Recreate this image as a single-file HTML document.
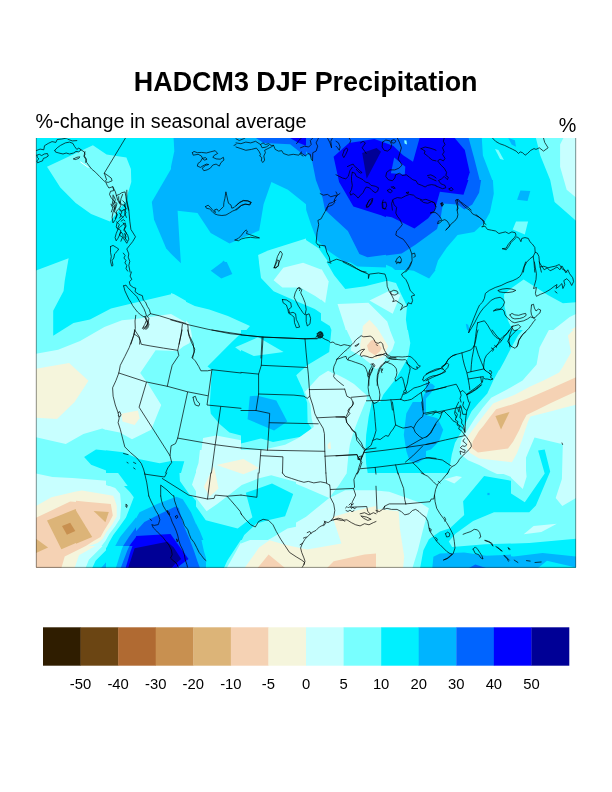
<!DOCTYPE html>
<html><head><meta charset="utf-8"><title>HADCM3 DJF Precipitation</title>
<style>
html,body{margin:0;padding:0;background:#fff;}
body{width:612px;height:792px;position:relative;overflow:hidden;font-family:"Liberation Sans",sans-serif;}
svg text{font-family:"Liberation Sans",sans-serif;fill:#000;}
</style></head><body>
<svg width="612" height="792" viewBox="0 0 612 792" style="position:absolute;left:0;top:0">
<defs>
<clipPath id="t00"><rect x="36" y="138" width="135" height="143"/></clipPath>
<clipPath id="t10"><rect x="171" y="138" width="135" height="143"/></clipPath>
<clipPath id="t20"><rect x="306" y="138" width="135" height="143"/></clipPath>
<clipPath id="t30"><rect x="441" y="138" width="135" height="143"/></clipPath>
<clipPath id="t01"><rect x="36" y="281" width="135" height="143"/></clipPath>
<clipPath id="t11"><rect x="171" y="281" width="135" height="143"/></clipPath>
<clipPath id="t21"><rect x="306" y="281" width="135" height="143"/></clipPath>
<clipPath id="t31"><rect x="441" y="281" width="135" height="143"/></clipPath>
<clipPath id="t02"><rect x="36" y="424" width="135" height="144"/></clipPath>
<clipPath id="t12"><rect x="171" y="424" width="135" height="144"/></clipPath>
<clipPath id="t22"><rect x="306" y="424" width="135" height="144"/></clipPath>
<clipPath id="t32"><rect x="441" y="424" width="135" height="144"/></clipPath>
<clipPath id="map"><rect x="36" y="138" width="540" height="429.5"/></clipPath>
</defs>
<g shape-rendering="geometricPrecision">
<g clip-path="url(#t00)">
<rect x="36" y="138" width="135" height="143" fill="#00f0ff"/>
<polygon points="47.0,166.7 92.9,145.3 106.6,154.5 126.4,157.4 130.9,168.9 131.3,182.1 125.3,202.0 109.9,221.4 91.1,214.1 75.7,203.1 60.3,187.6" fill="#78ffff"/>
<polygon points="171.0,168.9 151.8,202.0 154.0,219.6 166.1,248.3 171.0,253.8" fill="#00b4ff"/>
<polygon points="36.0,270.4 68.6,258.2 64.7,280.9 36.0,280.9" fill="#78ffff"/>
</g>
<g clip-path="url(#t10)">
<rect x="171" y="138" width="135" height="143" fill="#00b4ff"/>
<polygon points="171.0,138.0 173.6,138.0 174.3,151.2 171.0,166.7" fill="#00f0ff"/>
<polygon points="255.9,138.0 263.6,142.9 290.1,144.2 306.0,156.8 306.0,138.0" fill="#0064ff"/>
<polygon points="290.1,138.0 297.8,142.4 306.0,145.7 306.0,138.0" fill="#0000ff"/>
<polygon points="177.6,210.8 197.5,213.0 210.7,232.9 229.5,243.4 259.2,230.6 263.6,204.2 271.4,182.1 287.9,189.8 306.0,204.2 306.0,280.9 171.0,280.9 171.0,253.8 180.9,263.3" fill="#00f0ff"/>
<polygon points="210.7,271.5 223.9,260.4 231.7,274.8 218.4,278.1" fill="#00b4ff"/>
<polygon points="258.1,254.9 268.1,250.5 306.0,238.4 306.0,280.9 261.4,280.9" fill="#78ffff"/>
<polygon points="273.6,280.9 283.5,270.4 294.5,265.9 306.0,264.8 306.0,280.9" fill="#c8ffff"/>
</g>
<g clip-path="url(#t20)">
<rect x="306" y="138" width="135" height="143" fill="#0064ff"/>
<polygon points="306.0,151.2 311.5,157.9 315.9,179.9 322.5,197.6 325.0,209.9 347.9,231.1 359.4,254.0 367.5,257.3 400.9,252.7 414.1,246.1 441.0,226.2 441.0,280.9 306.0,280.9" fill="#00b4ff"/>
<polygon points="306.0,204.2 306.2,209.9 311.1,224.7 316.8,239.5 325.9,249.2 344.6,262.2 367.5,269.7 375.9,267.3 398.6,261.5 420.7,279.2 429.5,280.9 306.0,280.9" fill="#00f0ff"/>
<polygon points="276.0,249.2 303.8,238.6 318.6,248.3 329.8,264.0 336.4,282.0 276.0,282.0" fill="#78ffff"/>
<polygon points="276.0,275.4 285.7,267.3 304.7,263.1 321.9,268.8 328.3,282.0 276.0,282.0" fill="#c8ffff"/>
<polygon points="333.6,156.8 349.0,142.9 374.4,139.1 393.1,145.7 403.1,155.2 413.0,161.8 419.6,138.0 441.0,138.0 441.0,195.4 431.7,213.0 414.1,228.4 381.0,215.2 353.4,206.4 339.1,182.1" fill="#0000ff"/>
<polygon points="394.2,157.4 405.3,166.7 404.8,174.4 390.9,173.3" fill="#0064ff"/>
<polygon points="362.2,153.0 376.6,147.9 381.0,151.7 366.7,178.8" fill="#000096"/>
<polygon points="404.2,140.2 406.4,140.6 407.0,144.6 404.6,143.5" fill="#78ffff"/>
</g>
<g clip-path="url(#t30)">
<rect x="441" y="138" width="135" height="143" fill="#00f0ff"/>
<polygon points="441.0,138.0 481.8,138.0 482.9,155.6 493.9,184.3 492.8,197.6 485.1,222.9 477.4,232.9 457.5,234.6 441.0,257.1" fill="#00b4ff"/>
<polygon points="441.0,138.0 468.6,138.0 474.1,157.9 481.1,185.4 481.1,195.8 471.9,213.0 454.2,200.9 441.0,204.2" fill="#0064ff"/>
<polygon points="441.0,138.0 454.7,138.0 464.8,150.1 469.7,172.2 462.0,197.6 441.0,188.7" fill="#0000ff"/>
<polygon points="535.9,138.0 540.3,155.6 550.2,179.9 554.6,202.0 576.0,220.7 576.0,138.0" fill="#78ffff"/>
<polygon points="563.4,138.0 560.1,144.6 560.1,166.7 566.7,189.8 576.0,197.6 576.0,138.0" fill="#c8ffff"/>
<polygon points="495.0,149.0 498.4,150.1 503.9,160.1 500.1,159.0" fill="#78ffff"/>
<polygon points="520.4,190.5 530.3,190.9 527.5,200.9 517.1,199.8" fill="#00b4ff"/>
<polygon points="516.0,221.4 528.1,221.4 524.8,234.6 512.7,229.5" fill="#78ffff"/>
<polygon points="508.3,138.0 514.9,140.2 516.0,146.8 511.6,144.6" fill="#00b4ff"/>
</g>
<g clip-path="url(#t01)">
<rect x="36" y="281" width="135" height="143" fill="#c8ffff"/>
<polygon points="36.0,281.0 171.0,281.0 171.0,314.1 135.3,318.9 122.0,320.3 104.4,326.9 80.1,341.0 58.1,349.8 36.0,353.8" fill="#78ffff"/>
<polygon points="64.7,281.0 63.6,290.9 53.2,310.8 53.2,335.7 73.5,322.9 90.0,319.6 111.0,308.6 128.6,304.2 171.0,294.2 171.0,281.0" fill="#00f0ff"/>
<polygon points="36.0,368.8 69.1,363.1 88.5,380.7 74.6,401.9 57.0,418.9 36.0,417.8" fill="#f5f5dc"/>
<polygon points="171.0,347.2 156.2,349.4 139.7,373.6 150.7,389.1 161.7,405.6 155.1,423.9 171.0,423.9" fill="#78ffff"/>
<polygon points="120.9,414.5 137.9,410.7 139.2,423.9 123.1,423.9" fill="#f5f5dc"/>
</g>
<g clip-path="url(#t11)">
<rect x="171" y="281" width="135" height="143" fill="#78ffff"/>
<polygon points="171.0,293.1 174.3,294.2 192.0,304.2 215.1,309.7 235.0,318.5 250.4,326.2 242.7,337.2 225.0,351.6 207.4,365.9 211.8,369.2 209.6,404.5 210.7,413.4 219.5,423.9 306.0,423.9 306.0,281.0 171.0,281.0" fill="#00f0ff"/>
<polygon points="235.0,347.2 258.1,337.2 283.5,352.0 253.7,356.0" fill="#78ffff"/>
<polygon points="171.0,314.1 188.6,324.0 193.1,339.5 182.0,347.2 171.0,348.3" fill="#c8ffff"/>
<polygon points="262.5,281.0 274.7,286.5 290.1,293.1 306.0,295.3 306.0,281.0" fill="#c8ffff"/>
<polygon points="306.0,367.0 296.7,375.9 301.1,389.1 306.0,395.7" fill="#78ffff"/>
<polygon points="248.2,396.8 255.9,395.7 276.9,400.1 287.9,423.9 247.1,423.9 247.1,417.8" fill="#00b4ff"/>
</g>
<g clip-path="url(#t21)">
<rect x="306" y="281" width="135" height="143" fill="#78ffff"/>
<polygon points="382.1,281.0 406.4,281.0 409.7,294.2 411.9,325.1 408.6,353.8 403.1,373.6 394.2,386.9 378.8,404.5 374.4,423.9 441.0,423.9 441.0,281.0" fill="#00f0ff"/>
<polygon points="328.1,281.0 338.0,281.0 345.7,289.8 382.1,281.0 370.0,302.0 338.0,304.2 327.0,302.0" fill="#00f0ff"/>
<polygon points="306.0,290.9 327.0,302.0 338.0,304.2 332.0,328.4 329.2,352.7 312.6,362.6 306.0,373.6" fill="#00f0ff"/>
<polygon points="370.0,302.0 386.5,290.9 400.9,296.4 394.2,314.1" fill="#c8ffff"/>
<polygon points="338.0,304.2 371.1,302.0 390.9,322.9 394.2,342.8 382.1,364.8 376.6,369.2 364.5,358.2 351.2,353.8" fill="#c8ffff"/>
<polygon points="363.8,328.4 370.0,320.7 378.8,328.4 387.6,345.0 378.8,360.4 361.1,356.0 362.9,336.1" fill="#f5f5dc"/>
<polygon points="366.7,341.7 372.2,337.2 382.1,347.2 375.5,354.9 366.7,350.5" fill="#f5d2b4"/>
<polygon points="327.0,371.4 335.8,378.1 367.8,397.9 364.5,423.9 319.2,423.9 319.2,378.1" fill="#c8ffff"/>
<polygon points="441.0,378.1 431.7,383.6 405.3,411.1 411.9,423.9 441.0,423.9" fill="#00b4ff"/>
</g>
<g clip-path="url(#t31)">
<rect x="441" y="281" width="135" height="143" fill="#00f0ff"/>
<polygon points="525.9,281.0 562.3,304.2 576.0,302.0 576.0,423.9 467.5,423.9 484.0,395.7 495.0,373.6 513.8,345.0 509.4,327.3 503.9,307.5 505.0,294.2" fill="#78ffff"/>
<polygon points="576.0,315.2 570.0,319.6 546.9,336.1 539.2,347.2 537.0,365.9 511.6,384.7 491.7,395.7 474.1,423.9 576.0,423.9" fill="#c8ffff"/>
<polygon points="576.0,326.2 566.7,335.0 568.9,353.8 555.7,369.2 533.6,382.5 496.1,405.6 488.4,411.1 479.6,423.9 576.0,423.9" fill="#f5f5dc"/>
<polygon points="576.0,378.1 560.1,385.8 529.2,401.2 500.6,407.8 492.8,413.4 486.2,423.9 528.1,423.9 529.2,415.6 576.0,396.8" fill="#f5d2b4"/>
<polygon points="576.0,413.4 551.3,423.9 576.0,423.9" fill="#c8ffff"/>
<polygon points="495.7,415.1 509.4,412.7 503.9,423.9 500.6,423.9" fill="#dcb478"/>
<polygon points="465.7,324.0 468.6,325.1 469.7,335.0 466.4,330.6" fill="#00b4ff"/>
</g>
<g clip-path="url(#t02)">
<rect x="36" y="424" width="135" height="144" fill="#c8ffff"/>
<polygon points="36.0,437.2 65.8,443.9 83.4,433.9 102.2,428.4 130.9,439.4 156.2,424.0 171.0,424.0 171.0,568.0 85.6,568.0 88.9,559.7 102.2,546.4 112.1,532.1 120.5,515.5 120.9,492.4 109.9,480.9 72.4,478.0 52.5,476.9 36.0,473.6" fill="#78ffff"/>
<polygon points="84.1,457.1 96.0,449.4 123.1,452.2 139.7,459.3 159.5,463.7 171.0,461.5 171.0,568.0 92.2,568.0 95.6,560.8 108.8,547.5 128.6,514.4 133.1,497.9 120.9,482.5 108.8,471.4 91.1,464.8" fill="#00f0ff"/>
<polygon points="171.0,496.8 147.4,506.7 137.5,516.6 124.2,538.7 111.0,556.4 101.1,568.0 171.0,568.0" fill="#00b4ff"/>
<polygon points="171.0,512.2 155.1,516.6 147.4,523.3 134.2,537.6 124.2,554.1 116.5,568.0 171.0,568.0" fill="#0064ff"/>
<polygon points="171.0,533.2 136.4,536.1 124.2,558.6 118.7,568.0 171.0,568.0" fill="#0000ff"/>
<polygon points="171.0,542.0 135.3,548.6 126.0,568.0 171.0,568.0" fill="#000096"/>
<polygon points="36.0,506.1 51.4,497.2 81.2,490.2 113.2,496.8 115.4,521.1 104.4,540.9 79.0,555.2 74.6,568.0 36.0,568.0" fill="#f5f5dc"/>
<polygon points="36.0,517.8 70.2,501.6 111.0,504.5 113.2,518.9 102.2,536.5 87.8,544.9 64.7,556.4 61.4,568.0 36.0,568.0" fill="#f5d2b4"/>
<polygon points="47.0,520.6 75.7,508.9 91.1,536.5 61.4,549.3" fill="#dcb478"/>
<polygon points="36.0,538.7 48.1,547.5 36.0,553.0" fill="#dcb478"/>
<polygon points="93.8,511.1 108.8,512.2 105.5,522.2" fill="#dcb478"/>
<polygon points="62.0,525.9 70.2,522.8 75.3,531.0 66.9,534.7" fill="#c89050"/>
</g>
<g clip-path="url(#t12)">
<rect x="171" y="424" width="135" height="144" fill="#78ffff"/>
<polygon points="204.1,424.0 235.0,435.0 259.2,441.6 274.7,440.5 306.0,430.6 306.0,424.0" fill="#00f0ff"/>
<polygon points="257.0,424.0 276.9,429.5 294.5,424.0" fill="#00b4ff"/>
<polygon points="203.0,439.4 211.8,436.1 237.2,446.1 259.2,449.4 274.7,448.3 306.0,439.4 306.0,481.4 295.6,480.2 272.5,475.8 243.8,485.8 226.1,494.6 216.2,506.7 207.4,510.0 192.0,484.7 200.8,457.1" fill="#c8ffff"/>
<polygon points="171.0,460.4 185.3,460.4 179.8,480.9 205.9,520.0 237.2,528.8 248.6,522.2 253.1,516.6 246.0,492.4 271.4,483.1 293.4,494.6 283.9,519.3 268.1,522.2 258.1,527.7 243.8,535.4 227.2,560.8 223.9,568.0 171.0,568.0" fill="#00f0ff"/>
<polygon points="306.0,518.9 288.6,521.1 268.1,526.8 241.6,541.6 226.8,568.0 306.0,568.0" fill="#c8ffff"/>
<polygon points="216.2,464.8 241.6,459.3 258.1,467.0 241.6,473.6" fill="#f5f5dc"/>
<polygon points="204.1,486.9 214.0,467.0 218.4,488.0 208.5,496.8" fill="#f5f5dc"/>
<polygon points="306.0,550.8 290.1,547.5 268.1,541.4 254.8,556.4 247.1,568.0 306.0,568.0" fill="#f5f5dc"/>
<polygon points="258.1,568.0 268.1,555.2 285.7,568.0" fill="#f5d2b4"/>
<polygon points="171.0,494.6 177.6,495.7 192.0,515.5 199.7,529.9 205.2,551.9 201.9,568.0 171.0,568.0" fill="#00b4ff"/>
<polygon points="171.0,504.5 176.5,508.9 187.5,527.7 195.3,556.4 190.9,568.0 171.0,568.0" fill="#0064ff"/>
<polygon points="171.0,521.1 177.6,532.1 187.5,558.6 184.2,568.0 171.0,568.0" fill="#0000ff"/>
<polygon points="171.0,544.2 179.8,558.6 175.4,568.0 171.0,568.0" fill="#000096"/>
</g>
<g clip-path="url(#t22)">
<rect x="306" y="424" width="135" height="144" fill="#c8ffff"/>
<polygon points="306.0,424.0 320.3,424.0 306.0,433.9" fill="#78ffff"/>
<polygon points="357.8,424.0 355.6,432.8 350.1,450.5 339.1,484.7 329.2,497.9 306.0,488.0 306.0,516.6 329.2,497.9 345.3,490.2 388.7,490.2 403.1,500.1 427.3,500.1 432.8,490.2 441.0,488.0 441.0,424.0" fill="#78ffff"/>
<polygon points="366.7,424.0 364.5,437.2 365.6,452.7 372.2,468.1 383.2,479.1 396.4,485.8 411.9,482.5 425.1,474.7 441.0,483.6 441.0,424.0" fill="#00f0ff"/>
<polygon points="404.2,424.0 403.1,437.2 406.4,450.5 414.1,461.5 429.5,457.1 441.0,446.1 441.0,424.0" fill="#00b4ff"/>
<polygon points="332.5,517.8 365.6,507.8 378.8,508.9 398.6,511.1 404.2,556.4 403.1,568.0 306.0,568.0 306.0,560.8 341.3,543.1" fill="#f5f5dc"/>
<polygon points="327.0,568.0 334.7,561.9 367.8,554.1 385.4,565.2 386.5,568.0" fill="#f5d2b4"/>
<polygon points="327.0,443.9 330.7,441.6 330.7,448.3 327.4,447.8" fill="#f5f5dc"/>
<polygon points="441.0,488.0 432.8,503.4 429.5,521.1 422.9,547.5 419.6,568.0 441.0,568.0" fill="#78ffff"/>
<polygon points="441.0,527.7 433.9,547.5 429.5,568.0 441.0,568.0" fill="#00f0ff"/>
<polygon points="441.0,547.5 436.1,556.4 432.8,568.0 441.0,568.0" fill="#00b4ff"/>
</g>
<g clip-path="url(#t32)">
<rect x="441" y="424" width="135" height="144" fill="#78ffff"/>
<polygon points="465.3,452.7 491.1,469.0 510.5,477.2 522.8,489.1 526.6,476.7 525.0,460.0 534.5,437.5 562.8,444.3 561.9,479.1 555.7,497.9 562.3,506.1 576.0,497.9 576.0,424.0 454.2,424.0" fill="#c8ffff"/>
<polygon points="463.1,501.2 484.0,475.8 524.8,502.3 544.7,473.6 538.1,450.5 544.7,449.4 550.2,471.4 535.9,505.6 529.2,512.2 493.9,512.2 473.0,521.1 463.1,516.6" fill="#00f0ff"/>
<polygon points="441.0,424.0 454.2,424.0 459.8,452.7 454.2,465.9 445.4,476.9 441.0,490.2" fill="#00f0ff"/>
<polygon points="444.3,479.1 456.4,475.8 462.0,476.9 454.2,483.6" fill="#c8ffff"/>
<polygon points="467.5,450.5 474.1,430.6 477.4,424.0 528.1,424.0 523.7,437.2 514.9,457.1 512.7,461.5 488.4,459.3" fill="#f5f5dc"/>
<polygon points="471.9,449.4 484.0,424.0 520.4,424.0 509.4,448.3 480.7,452.7" fill="#f5d2b4"/>
<polygon points="498.8,424.0 503.9,424.0 501.0,429.5" fill="#dcb478"/>
<polygon points="441.0,547.5 485.1,544.2 529.2,543.1 576.0,538.7 576.0,568.0 441.0,568.0" fill="#00f0ff"/>
<polygon points="441.0,553.0 469.7,554.1 513.8,556.4 542.5,553.0 576.0,556.4 576.0,568.0 441.0,568.0" fill="#00b4ff"/>
<polygon points="467.5,568.0 474.1,564.1 485.1,568.0" fill="#0064ff"/>
<polygon points="538.1,568.0 546.9,560.8 576.0,567.4 576.0,568.0" fill="#00f0ff"/>
<polygon points="523.7,534.3 533.6,525.9 556.8,523.7 541.4,532.1" fill="#c8ffff"/>
</g>
<clipPath id="p0"><rect x="106" y="330" width="135" height="143"/></clipPath>
<g clip-path="url(#p0)">
<rect x="106" y="330" width="135" height="143" fill="#c8ffff"/>
<polygon points="155.6,350.3 177.7,351.0 183.2,346.5 189.4,343.2 192.0,336.6 190.9,330.0 241.0,330.0 241.0,473.0 106.0,473.0 106.0,429.7 119.7,432.6 132.0,439.2 151.2,429.7 161.2,405.0 147.5,382.9 140.2,373.0" fill="#78ffff"/>
<polygon points="203.1,438.1 216.3,435.4 241.0,440.3 241.0,473.0 200.9,473.0 199.8,462.4" fill="#c8ffff"/>
<polygon points="216.3,464.6 229.5,461.3 241.0,462.4 241.0,473.0 211.9,473.0" fill="#f5f5dc"/>
<polygon points="241.0,333.3 230.6,343.2 207.5,366.4 211.9,369.7 209.7,405.0 210.8,413.8 219.6,424.0 229.5,432.6 241.0,435.4" fill="#00f0ff"/>
<polygon points="235.1,347.2 258.2,337.3 258.2,356.5 247.2,356.0" fill="#78ffff"/>
<polygon points="106.0,450.2 123.2,452.2 139.8,459.3 159.6,463.2 171.1,461.0 184.3,461.3 181.0,473.0 106.0,473.0" fill="#00f0ff"/>
<polygon points="121.4,413.8 138.0,410.5 139.5,418.2 134.7,424.9 122.5,421.6" fill="#f5f5dc"/>
</g>
<clipPath id="p1"><rect x="241" y="330" width="135" height="143"/></clipPath>
<g clip-path="url(#p1)">
<rect x="241" y="330" width="135" height="143" fill="#00f0ff"/>
<polygon points="331.4,330.0 329.2,352.1 307.2,365.3 296.2,375.2 302.8,389.6 307.2,402.8 307.6,422.7 311.6,428.2 305.0,435.9 287.3,439.2 273.0,442.1 260.9,438.5 241.0,443.6 241.0,473.0 376.0,473.0 376.0,330.0" fill="#78ffff"/>
<polygon points="241.0,453.5 260.9,450.2 285.1,444.7 298.4,438.1 313.8,427.1 311.6,418.2 310.5,405.0 305.0,391.8 319.3,376.3 328.1,370.8 346.0,380.1 355.7,384.5 367.2,396.2 366.3,402.8 361.2,416.0 358.1,420.0 353.3,433.0 350.2,444.5 348.4,456.0 346.4,473.0 241.0,473.0" fill="#c8ffff"/>
<polygon points="346.9,330.0 351.3,353.8 364.5,358.2 376.0,367.9 376.0,330.0" fill="#c8ffff"/>
<polygon points="382.2,392.9 380.2,395.3 372.9,403.0 368.7,416.7 366.3,434.8 365.4,450.9 366.3,464.1 367.8,474.1 382.2,474.1" fill="#00f0ff"/>
<polygon points="363.0,336.2 363.9,328.5 378.9,328.5 387.7,345.0 378.9,360.4 361.2,356.0" fill="#f5f5dc"/>
<polygon points="366.7,341.7 372.3,337.3 382.2,347.2 375.6,354.9 366.7,350.5" fill="#f5d2b4"/>
<polygon points="235.0,347.2 258.2,337.3 283.6,352.1 253.8,356.0" fill="#78ffff"/>
<polygon points="249.8,396.2 257.5,395.7 276.3,400.6 287.3,421.6 274.1,430.4 247.6,419.3" fill="#00b4ff"/>
<polygon points="327.5,444.7 330.3,441.4 331.0,449.1 328.1,448.7" fill="#f5f5dc"/>
<polygon points="241.0,460.2 250.9,462.4 257.5,473.0 241.0,473.0" fill="#f5f5dc"/>
</g>
<clipPath id="p2"><rect x="376" y="330" width="135" height="143"/></clipPath>
<g clip-path="url(#p2)">
<rect x="376" y="330" width="135" height="143" fill="#00f0ff"/>
<polygon points="376.0,330.0 406.9,330.0 409.1,345.4 402.9,365.3 391.4,380.7 382.6,394.0 376.0,402.8" fill="#78ffff"/>
<polygon points="376.0,330.0 393.6,330.0 397.0,343.2 389.2,356.5 381.5,364.2 376.0,366.4" fill="#c8ffff"/>
<polygon points="376.0,330.0 387.0,330.0 392.5,341.0 387.0,352.1 376.0,357.6" fill="#f5f5dc"/>
<polygon points="376.0,336.6 382.6,342.1 381.5,348.8 376.0,352.1" fill="#f5d2b4"/>
<polygon points="405.8,414.9 412.4,402.8 423.4,389.6 431.2,381.8 436.0,385.2 434.5,396.2 428.9,406.1 423.4,414.9 431.2,417.1 438.9,420.4 443.3,430.4 437.8,441.4 431.2,451.3 424.5,459.1 417.9,463.5 412.4,460.2 406.9,452.4 404.7,440.3 404.2,427.1" fill="#00b4ff"/>
<polygon points="517.2,348.8 511.0,358.7 496.9,377.4 486.3,390.7 478.6,402.8 473.1,412.7 467.6,422.7 464.2,431.5 460.9,444.7 452.1,460.2 447.7,473.0 517.2,473.0" fill="#78ffff"/>
<polygon points="511.0,389.6 499.5,392.9 486.3,403.9 473.1,416.0 467.6,427.1 466.4,444.7 473.1,455.7 490.7,466.8 499.5,473.0 511.0,473.0" fill="#c8ffff"/>
<polygon points="511.0,397.3 499.5,400.6 486.3,410.5 477.5,421.6 470.9,435.9 469.8,446.9 479.7,456.8 499.5,460.2 511.0,455.7" fill="#f5f5dc"/>
<polygon points="511.0,405.0 495.1,410.5 484.1,422.7 475.3,438.1 474.2,448.0 481.9,452.4 506.2,450.2 511.0,444.7" fill="#f5d2b4"/>
<polygon points="495.1,416.5 509.5,411.6 502.2,429.3" fill="#dcb478"/>
<polygon points="468.7,330.0 471.3,330.0 470.4,334.4 469.1,332.6" fill="#00b4ff"/>
</g>
<clipPath id="p3"><rect x="336" y="330" width="100" height="72"/></clipPath>
<g clip-path="url(#p3)">
<rect x="336" y="330" width="100" height="72" fill="#78ffff"/>
<polygon points="407.9,330.0 410.3,343.1 407.9,357.8 401.4,369.2 395.6,379.0 383.4,394.5 380.1,402.1 436.0,402.1 436.0,330.0" fill="#00f0ff"/>
<polygon points="346.6,330.0 352.3,342.3 350.7,350.4 360.5,356.1 371.1,364.3 376.0,369.2 383.4,365.1 385.0,358.6 392.4,349.6 394.8,342.3 389.9,330.0" fill="#c8ffff"/>
<polygon points="363.0,330.0 378.5,330.0 388.3,346.3 383.4,356.1 376.0,359.4 367.0,357.0 360.5,355.3 360.2,344.7" fill="#f5f5dc"/>
<polygon points="367.0,345.5 371.1,340.6 374.4,339.8 381.8,348.0 380.1,351.2 375.2,355.3 368.7,351.2" fill="#f5d2b4"/>
<polygon points="336.0,374.1 345.8,379.0 354.0,383.9 362.1,391.3 367.0,395.4 366.2,402.1 336.0,402.1" fill="#c8ffff"/>
<polygon points="436.0,383.9 430.0,386.4 424.2,394.5 421.0,402.1 436.0,402.1" fill="#00b4ff"/>
</g>
<clipPath id="p4"><rect x="336" y="402" width="100" height="72"/></clipPath>
<g clip-path="url(#p4)">
<rect x="336" y="402" width="100" height="72" fill="#00f0ff"/>
<polygon points="336.0,402.0 371.9,402.0 368.7,416.7 366.2,434.7 365.4,451.0 366.2,464.1 367.9,474.1 336.0,474.1" fill="#78ffff"/>
<polygon points="336.0,402.0 365.4,402.0 358.1,420.0 353.2,433.0 349.9,444.5 348.3,455.9 346.6,474.1 336.0,474.1" fill="#c8ffff"/>
<polygon points="412.8,402.0 406.3,413.4 403.8,434.7 406.3,451.0 409.5,460.8 417.7,463.3 427.5,455.9 436.0,447.8 436.0,408.5 434.0,406.9 430.4,402.0" fill="#00b4ff"/>
</g>
<clipPath id="p5"><rect x="426" y="402" width="100" height="72"/></clipPath>
<g clip-path="url(#p5)">
<rect x="426" y="402" width="100" height="72" fill="#00f0ff"/>
<polygon points="426.0,415.1 437.4,418.3 443.2,429.8 439.1,441.2 430.9,449.4 426.0,451.0" fill="#00b4ff"/>
<polygon points="483.2,402.0 478.3,409.4 471.8,418.3 466.8,429.8 461.1,440.4 457.0,447.8 453.0,455.9 450.5,464.1 448.9,474.1 526.0,474.1 526.0,402.0" fill="#78ffff"/>
<polygon points="496.3,402.0 488.1,406.9 479.9,416.7 473.4,428.1 469.3,437.1 466.8,446.1 467.2,459.5 491.0,468.8 507.7,476.0 526.0,483.7 526.0,402.0" fill="#c8ffff"/>
<polygon points="507.7,402.0 494.6,408.5 486.5,416.7 478.3,429.8 472.6,441.2 470.1,449.4 473.4,454.3 481.6,458.4 494.6,460.8 512.6,462.5 517.5,455.9 526.0,437.9 526.0,402.0" fill="#f5f5dc"/>
<polygon points="519.1,402.0 507.7,406.1 494.6,411.8 486.5,421.6 479.9,433.0 475.0,442.8 473.4,449.4 481.6,451.8 507.7,449.4 514.2,441.2 520.8,428.1 526.0,418.3 526.0,402.0" fill="#f5d2b4"/>
<polygon points="495.4,416.7 510.2,412.1 501.5,429.8" fill="#dcb478"/>
<polygon points="524.0,455.9 526.0,455.1 526.0,469.0 524.9,467.4" fill="#78ffff"/>
</g>
<clipPath id="p6"><rect x="426" y="330" width="100" height="72"/></clipPath>
<g clip-path="url(#p6)">
<rect x="426" y="330" width="100" height="72" fill="#00f0ff"/>
<polygon points="526.0,326.7 518.3,334.9 511.0,348.0 504.4,361.0 496.3,375.8 488.1,392.1 483.2,402.1 526.0,402.1" fill="#78ffff"/>
<polygon points="526.0,377.4 517.5,382.3 507.7,390.5 499.5,398.6 496.3,402.1 526.0,402.1" fill="#c8ffff"/>
<polygon points="526.0,387.2 517.5,392.1 509.3,398.6 506.1,402.1 526.0,402.1" fill="#f5f5dc"/>
<polygon points="526.0,399.4 520.8,401.4 519.1,402.1 526.0,402.1" fill="#f5d2b4"/>
<polygon points="426.0,382.3 432.5,383.9 435.0,386.4 430.9,392.9 426.0,398.6" fill="#00b4ff"/>
<polygon points="467.7,330.0 470.1,330.0 468.8,332.5" fill="#00b4ff"/>
</g>
<clipPath id="p7"><rect x="106" y="473" width="135" height="23"/></clipPath>
<g clip-path="url(#p7)">
<rect x="106" y="473" width="135" height="23" fill="#00f0ff"/>
<polygon points="106.0,473.0 118.1,473.0 127.0,485.1 133.6,495.1 127.0,511.6 106.0,511.6" fill="#78ffff"/>
<polygon points="106.0,485.1 113.7,488.0 117.5,495.9 118.4,505.0 106.0,505.0" fill="#c8ffff"/>
<polygon points="106.0,493.5 110.9,494.6 112.8,495.9 113.9,505.0 106.0,505.0" fill="#f5f5dc"/>
<polygon points="178.8,459.8 179.9,480.9 189.8,495.1 205.9,520.0 237.3,528.8 248.5,522.2 248.5,459.8" fill="#78ffff"/>
<polygon points="200.9,457.1 192.0,484.7 207.5,510.1 216.3,506.8 226.0,494.6 241.0,486.2 241.0,457.1" fill="#c8ffff"/>
<polygon points="204.2,486.9 214.1,467.0 218.5,488.0 208.6,496.8" fill="#f5f5dc"/>
</g>
<clipPath id="p8"><rect x="106" y="496" width="100" height="72"/></clipPath>
<g clip-path="url(#p8)">
<rect x="106" y="496" width="100" height="72" fill="#00f0ff"/>
<polygon points="106.0,496.0 133.8,496.0 130.5,505.0 122.3,517.2 114.2,530.3 109.3,543.4 106.0,548.3" fill="#78ffff"/>
<polygon points="106.0,496.0 117.4,496.0 118.3,505.0 116.6,515.6 110.9,527.0 106.0,534.4" fill="#c8ffff"/>
<polygon points="106.0,496.0 112.9,496.0 113.8,505.0 113.4,515.6 109.3,523.8 106.0,527.0" fill="#f5f5dc"/>
<polygon points="106.0,496.0 110.1,496.0 110.9,504.2 111.7,513.2 107.6,520.5 106.0,522.1" fill="#f5d2b4"/>
<polygon points="106.0,507.4 108.5,511.5 108.9,514.8 106.0,518.9" fill="#dcb478"/>
<polygon points="115.8,568.1 121.5,549.9 128.9,531.1 139.5,512.3 158.3,503.4 176.3,496.8 182.8,499.3 191.0,512.3 200.0,533.6 204.0,551.6 206.0,558.1 206.0,568.1" fill="#00b4ff"/>
<polygon points="120.7,568.1 127.2,550.7 136.2,531.1 144.4,522.1 159.9,514.0 175.4,506.6 178.7,508.3 183.6,525.4 189.3,538.5 194.2,551.6 197.5,561.4 200.0,568.1" fill="#0064ff"/>
<polygon points="125.6,568.1 130.5,551.6 136.2,536.0 170.5,533.9 188.5,558.9 176.3,568.1" fill="#0000ff"/>
<polygon points="128.1,568.1 134.6,548.3 167.3,541.8 173.8,547.5 181.2,558.9 174.6,564.6 171.4,568.1" fill="#000096"/>
<polygon points="191.8,496.0 199.1,504.2 206.0,510.7 206.0,496.0" fill="#78ffff"/>
<polygon points="204.0,496.0 206.0,498.5 206.0,496.0" fill="#c8ffff"/>
</g>
<clipPath id="p9"><rect x="76" y="486" width="60" height="60"/></clipPath>
<g clip-path="url(#p9)">
<rect x="76" y="486" width="60" height="60" fill="#00f0ff"/>
<polygon points="136.0,517.4 128.0,527.2 120.1,537.0 115.2,546.0 136.0,546.0" fill="#00b4ff"/>
<polygon points="136.0,527.2 128.9,537.0 123.1,546.0 136.0,546.0" fill="#0064ff"/>
<polygon points="136.0,537.0 130.9,543.8 129.4,546.0 136.0,546.0" fill="#0000ff"/>
<polygon points="76.0,486.0 124.0,486.0 129.9,491.9 133.8,497.3 129.9,507.6 126.0,517.4 119.1,527.2 113.3,535.0 109.3,541.9 107.4,546.0 76.0,546.0" fill="#78ffff"/>
<polygon points="76.0,486.0 109.8,486.0 115.2,488.0 120.1,493.8 121.1,505.6 120.1,518.4 115.2,526.2 109.3,534.0 105.4,540.9 101.5,546.0 76.0,546.0" fill="#c8ffff"/>
<polygon points="76.0,491.4 81.9,490.4 113.3,495.8 116.7,505.6 116.7,516.4 112.3,524.2 106.4,532.1 102.5,538.9 97.6,542.9 88.7,546.0 76.0,546.0" fill="#f5f5dc"/>
<polygon points="76.0,500.7 85.8,501.7 110.8,504.1 112.8,515.4 109.3,522.3 104.4,530.1 100.5,537.0 93.6,540.9 85.8,546.0 76.0,546.0" fill="#f5d2b4"/>
<polygon points="93.6,511.0 108.8,512.0 105.4,522.3" fill="#dcb478"/>
<polygon points="76.0,510.5 92.2,537.0 76.0,543.8" fill="#dcb478"/>
</g>
<clipPath id="p10"><rect x="241" y="473" width="135" height="95"/></clipPath>
<g clip-path="url(#p10)">
<rect x="241" y="473" width="135" height="95" fill="#c8ffff"/>
<polygon points="241.0,479.2 270.8,474.8 280.7,477.4 306.1,488.0 329.2,497.9 306.1,516.7 296.2,522.6 276.3,525.9 267.5,533.7 252.0,539.2 241.0,543.6" fill="#78ffff"/>
<polygon points="329.2,497.9 339.2,484.7 346.9,473.0 376.0,473.0 376.0,490.2 345.3,490.2" fill="#78ffff"/>
<polygon points="234.4,497.3 246.1,492.4 271.4,483.1 293.5,494.6 284.0,519.3 268.1,522.2 258.2,527.7 243.9,535.4 234.4,543.6" fill="#00f0ff"/>
<polygon points="244.5,568.1 259.1,547.6 269.5,540.3 285.1,544.7 307.2,549.5 341.4,543.6 332.6,517.1 346.9,512.7 366.7,507.9 376.0,506.1 376.0,568.1 244.5,568.1" fill="#f5f5dc"/>
<polygon points="257.5,568.1 268.6,554.6 285.1,568.1" fill="#f5d2b4"/>
<polygon points="327.0,568.1 333.7,561.2 364.5,554.6 376.0,553.5 376.0,568.1" fill="#f5d2b4"/>
</g>
<clipPath id="p11"><rect x="376" y="473" width="135" height="95"/></clipPath>
<g clip-path="url(#p11)">
<rect x="376" y="473" width="135" height="95" fill="#78ffff"/>
<polygon points="511.0,480.7 484.1,475.9 463.1,501.2 464.2,514.9 449.9,528.2 440.0,531.5 428.9,539.2 423.4,550.2 420.1,568.1 511.0,568.1" fill="#00f0ff"/>
<polygon points="517.2,512.3 494.0,512.3 473.1,521.1 455.4,533.7 448.8,541.4 452.1,546.9 485.2,544.3 517.2,543.2" fill="#78ffff"/>
<polygon points="376.0,490.6 389.2,491.8 404.7,497.3 420.1,502.8 428.9,508.3 423.4,528.2 417.9,550.2 412.4,568.1 376.0,568.1" fill="#c8ffff"/>
<polygon points="376.0,509.4 378.6,509.0 398.7,511.2 399.8,528.2 404.2,556.4 403.1,568.1 376.0,568.1" fill="#f5f5dc"/>
<polygon points="432.3,568.1 433.4,556.8 440.0,553.5 464.2,552.4 486.3,555.7 511.0,554.6 511.0,568.1" fill="#00b4ff"/>
<polygon points="468.7,568.1 475.3,564.6 486.3,568.1" fill="#0064ff"/>
<polygon points="444.4,479.2 456.5,475.9 462.0,477.0 454.3,483.6" fill="#c8ffff"/>
<polygon points="487.4,492.9 489.6,492.9 489.6,495.1 487.4,495.1" fill="#00b4ff"/>
<polygon points="490.9,469.0 511.0,477.0 517.2,481.8 517.2,469.0" fill="#c8ffff"/>
</g>
<clipPath id="p12"><rect x="186" y="262" width="135" height="68"/></clipPath>
<g clip-path="url(#p12)">
<rect x="186" y="262" width="135" height="68" fill="#00f0ff"/>
<polygon points="210.7,270.8 222.4,262.0 226.8,262.0 232.3,274.1 221.3,278.5" fill="#00b4ff"/>
<polygon points="258.1,256.0 261.0,278.1 273.6,291.3 294.1,300.2 314.8,309.0 325.2,316.0 325.2,256.0" fill="#78ffff"/>
<polygon points="273.6,280.3 283.3,267.7 303.1,262.7 322.1,269.9 328.7,281.6 325.2,303.0 314.8,295.8 300.1,287.6 282.4,287.6" fill="#c8ffff"/>
<polygon points="186.0,301.7 194.8,306.1 209.2,309.4 227.9,316.0 250.0,326.0 241.2,335.9 225.7,350.2 221.3,358.0 186.0,358.0" fill="#78ffff"/>
<polygon points="186.0,320.5 189.3,323.8 192.6,338.1 186.0,344.7" fill="#c8ffff"/>
</g>
<clipPath id="p13"><rect x="321" y="262" width="135" height="68"/></clipPath>
<g clip-path="url(#p13)">
<rect x="321" y="262" width="135" height="68" fill="#00f0ff"/>
<polygon points="349.7,262.0 357.4,266.4 387.2,267.5 413.7,270.8 429.1,278.5 436.8,268.6 439.0,262.0" fill="#00b4ff"/>
<polygon points="321.0,262.0 326.5,262.0 334.2,275.2 345.3,288.9 365.1,286.3 387.2,280.8 396.0,283.0 401.5,295.1 407.0,306.1 405.9,319.4 408.1,334.8 409.2,345.8 405.9,358.0 321.0,358.0" fill="#78ffff"/>
<polygon points="369.5,300.6 389.4,290.7 400.4,295.1 392.7,313.8" fill="#c8ffff"/>
<polygon points="337.5,303.9 368.4,302.8 387.2,321.6 391.6,334.8 394.9,346.9 387.2,351.3 380.6,354.7 365.1,358.0 350.8,358.0 345.3,328.2" fill="#c8ffff"/>
<polygon points="362.9,326.0 369.5,319.8 377.3,328.2 382.8,339.2 387.2,346.9 380.6,354.7 367.3,358.0 359.6,358.0 360.7,343.6" fill="#f5f5dc"/>
<polygon points="366.2,342.5 372.8,338.1 381.7,346.9 376.2,353.6 366.2,350.2" fill="#f5d2b4"/>
<polygon points="321.0,320.5 329.8,326.0 331.6,330.4 329.8,350.2 321.0,355.8" fill="#00f0ff"/>
<polygon points="321.0,269.1 322.1,269.9 328.7,281.6 325.2,303.0 321.0,299.5" fill="#c8ffff"/>
</g>
<clipPath id="p14"><rect x="456" y="262" width="120" height="68"/></clipPath>
<g clip-path="url(#p14)">
<rect x="456" y="262" width="120" height="68" fill="#00f0ff"/>
<polygon points="523.6,279.6 548.2,295.3 562.9,303.2 576.0,302.2 576.0,346.9 508.9,346.9 512.9,336.5 511.9,328.7 508.0,320.8 504.6,307.1 504.0,294.4 510.9,288.5" fill="#78ffff"/>
<polygon points="576.0,314.0 569.7,316.9 556.0,327.7 548.2,334.5 542.3,343.4 541.3,346.9 576.0,346.9" fill="#c8ffff"/>
<polygon points="576.0,326.7 569.7,330.6 567.8,337.5 568.7,346.9 576.0,346.9" fill="#f5f5dc"/>
<polygon points="465.8,323.8 468.2,324.7 469.7,330.6 468.7,334.5 466.8,328.7" fill="#00b4ff"/>
</g>
<clipPath id="p15"><rect x="386" y="180" width="120" height="90"/></clipPath>
<g clip-path="url(#p15)">
<rect x="386" y="180" width="120" height="90" fill="#00f0ff"/>
<polygon points="386.0,272.2 434.0,272.2 435.0,270.0 438.0,260.4 446.8,247.6 457.6,234.9 474.2,232.0 484.0,223.1 489.9,212.4 493.8,193.7 492.9,180.0 386.0,180.0" fill="#00b4ff"/>
<polygon points="386.0,255.5 401.7,253.5 415.4,244.7 437.0,229.0 440.9,216.3 442.9,203.5 457.6,204.5 464.4,209.4 472.3,204.5 479.1,192.7 481.1,180.0 386.0,180.0" fill="#0064ff"/>
<polygon points="386.0,180.0 468.4,180.0 463.5,194.7 439.9,191.8 435.0,209.4 428.2,218.2 414.4,228.6 391.9,217.3 386.0,216.3" fill="#0000ff"/>
<polygon points="386.0,264.7 391.9,267.3 397.8,272.2 386.0,272.2" fill="#00f0ff"/>
</g>
<clipPath id="p16"><rect x="526" y="330" width="50" height="107"/></clipPath>
<g clip-path="url(#p16)">
<rect x="526" y="330" width="50" height="107" fill="#78ffff"/>
<polygon points="576.0,316.2 560.8,323.2 548.7,330.3 539.6,347.5 536.6,364.6 531.8,370.0 522.6,380.5 500.0,395.0 500.0,470.0 576.0,470.0" fill="#c8ffff"/>
<polygon points="576.0,327.3 567.9,335.4 571.0,352.5 562.9,366.7 559.2,372.6 543.5,380.5 529.1,387.0 514.8,394.8 500.0,403.0 500.0,460.0 508.3,460.0 512.4,452.5 524.5,437.4 525.2,430.0 527.8,422.3 530.4,416.4 538.3,414.4 554.0,410.5 566.0,407.3 576.0,404.7" fill="#f5f5dc"/>
<polygon points="576.0,377.3 566.0,381.8 548.7,389.6 529.1,398.1 512.1,404.6 500.0,409.0 500.0,450.0 507.3,449.5 519.3,430.0 522.6,422.3 526.5,415.1 538.3,409.2 551.4,402.7 566.0,396.1 576.0,391.6" fill="#f5d2b4"/>
</g>
<clipPath id="p17"><rect x="196" y="450" width="100" height="90"/></clipPath>
<g clip-path="url(#p17)">
<rect x="196" y="450" width="100" height="90" fill="#78ffff"/>
<polygon points="200.1,448.4 198.5,463.1 196.0,470.4 196.0,497.4 206.6,511.3 217.2,503.9 227.0,496.6 241.8,485.1 258.1,478.6 271.2,475.3 296.0,481.9 296.0,448.4" fill="#c8ffff"/>
<polygon points="196.0,506.4 205.8,520.3 237.7,528.4 252.4,517.3 245.8,492.8 272.0,483.5 293.2,494.1 285.1,516.2 267.9,520.3 256.5,523.5 244.2,535.0 241.8,540.0 196.0,540.0" fill="#00f0ff"/>
<polygon points="196.0,523.5 200.1,531.7 203.4,540.0 196.0,540.0" fill="#00b4ff"/>
<polygon points="296.0,526.8 287.5,528.4 271.2,538.2 267.9,540.0 296.0,540.0" fill="#c8ffff"/>
<polygon points="216.4,465.0 243.4,459.0 258.9,468.0 243.4,474.2" fill="#f5f5dc"/>
<polygon points="203.8,486.8 214.0,466.3 218.5,488.4 209.9,496.6" fill="#f5f5dc"/>
</g>
<clipPath id="p18"><rect x="450" y="370" width="76" height="104"/></clipPath>
<g clip-path="url(#p18)">
<rect x="450" y="370" width="76" height="104" fill="#00f0ff"/>
<polygon points="505.0,358.0 499.0,370.0 493.1,380.8 487.3,393.5 478.4,403.3 471.6,411.2 466.7,421.0 462.5,430.0 455.0,442.7 451.8,454.4 449.2,470.0 448.9,474.0 530.0,474.0 530.0,358.0" fill="#78ffff"/>
<polygon points="531.8,370.0 522.6,380.5 507.0,389.5 491.2,397.8 482.4,408.2 474.5,419.0 467.5,430.0 461.6,438.8 459.6,449.2 460.9,454.4 468.1,460.3 479.2,464.9 488.4,470.0 497.0,474.0 530.0,474.0 530.0,370.0" fill="#c8ffff"/>
<polygon points="545.0,380.0 543.5,380.5 529.1,387.0 514.8,394.8 502.0,399.8 493.1,403.5 486.3,412.0 479.4,421.0 472.5,430.0 468.1,436.1 466.8,447.9 470.1,453.1 479.2,458.4 511.9,462.3 517.1,453.1 522.0,440.0 525.2,430.0 527.8,422.3 530.4,416.4 545.0,412.0" fill="#f5f5dc"/>
<polygon points="551.4,385.0 548.7,389.6 529.1,398.1 512.1,404.4 496.1,409.2 489.2,418.0 483.3,425.9 479.0,431.0 472.7,441.4 472.0,447.9 477.9,452.5 508.0,448.6 513.2,441.4 519.3,430.0 522.6,422.3 526.5,415.1 538.3,409.2 551.4,402.7" fill="#f5d2b4"/>
<polygon points="495.4,416.0 509.5,412.0 501.0,429.6" fill="#dcb478"/>
</g>
</g>
<polyline points="80.3,161.8 88.5,167.5" fill="none" stroke="#fff" stroke-width="1"/>
<polygon points="317.5,333.5 318.8,332.0 321.0,331.6 322.6,332.8 323.2,335.5 322.0,337.6 320.0,338.2 318.0,337.4 317.3,335.5" fill="#000" fill-opacity="0.55"/>
<polygon points="144.8,316.5 146.2,317.0 147.4,319.5 148.4,322.0 149.6,324.2 148.6,327.5 146.8,329.6 144.6,329.8 145.8,327.2 147.2,324.4 146.2,321.0 145.2,318.6" fill="#000" fill-opacity="0.55"/>
<g clip-path="url(#map)" fill="none" stroke="#000" stroke-width="0.7" stroke-linejoin="round" stroke-linecap="round">
<polyline points="125.5,138.0 104.3,173.1"/>
<polyline points="36.0,150.7 40.1,149.1 43.8,149.8 44.5,145.7 48.3,143.4 52.0,141.6 55.9,142.4 57.2,139.5 61.8,139.0 67.0,138.0"/>
<polyline points="67.9,139.3 72.3,140.9 76.8,140.6"/>
<polyline points="54.8,150.3 57.2,147.8 60.5,145.4 65.4,142.9 69.5,142.1 72.9,143.4 74.6,146.5 76.8,149.4 78.8,148.1 81.1,149.8 78.8,151.9 76.0,151.4 73.6,153.0 69.5,154.0 66.2,153.0 63.0,154.0 58.9,153.0 55.6,152.1 54.8,150.3"/>
<polyline points="81.1,149.8 84.4,152.1 85.0,154.3 84.0,156.6 85.8,159.2 86.7,162.5 89.1,165.8 91.6,169.0 95.6,172.3 99.7,176.6 103.0,179.8 104.6,181.5 106.6,179.8 104.3,173.1 107.9,175.6 111.2,178.0 112.1,180.8 108.2,182.4 105.6,181.8 107.2,185.4 108.9,188.0 112.8,186.7 113.8,190.6 110.5,191.3 109.5,194.4 111.2,197.8 114.1,201.1 115.4,205.0 114.1,210.1"/>
<polyline points="73.6,158.9 76.8,157.3 79.8,156.8 78.8,158.4 75.2,159.6 73.6,158.9"/>
<polyline points="36.8,155.2 39.3,154.3 41.7,155.6 44.2,154.0 47.4,153.5 48.3,156.0 45.8,157.6 43.4,158.4 42.5,160.9 40.1,161.7 37.6,162.8 36.8,160.9 38.9,158.9 37.3,157.3 36.8,155.2"/>
<polyline points="112.8,186.7 115.4,191.9 116.4,195.5 119.3,194.4 121.8,192.7 125.1,191.9 125.9,196.8 126.8,203.4 128.5,210.1"/>
<polyline points="116.4,195.5 117.7,200.1 120.2,203.4 121.0,198.5 122.6,194.4"/>
<polyline points="192.4,152.7 194.0,151.4 197.3,152.7 201.4,152.4 206.3,153.0 210.3,151.9 215.2,150.7 217.7,153.5 214.4,155.2 212.8,157.3 216.1,158.9 220.2,159.2 223.4,157.3 223.9,160.1 221.0,162.5 219.3,166.1 216.1,164.1 212.8,165.0 210.3,168.2 207.1,169.9 203.8,170.7 202.2,168.2 205.4,165.5 208.7,164.5 206.3,164.1 203.0,165.8 200.5,167.4 197.3,166.1 198.1,163.3 200.5,161.7 202.2,158.4 205.4,157.6 207.1,159.2 204.6,160.1 202.7,158.9 201.4,156.0 198.1,154.3 193.2,155.2 192.4,152.7"/>
<polyline points="234.0,145.4 236.0,144.5"/>
<polyline points="236.0,147.0 240.9,148.6 245.8,150.3 251.5,149.4 256.4,148.1 258.9,151.1 260.5,154.3 259.7,156.0 261.8,157.6 261.3,160.9 263.0,162.5 264.6,160.1 263.8,156.0 265.4,152.7 264.6,150.3 267.9,148.6 271.1,147.0 273.6,145.4 275.2,149.4 278.5,151.1 281.8,150.7 283.4,153.5 288.3,155.2 293.2,154.3 298.9,155.2 300.5,152.7 303.0,154.3 305.4,156.0 307.9,153.5 310.3,154.3 311.2,159.2 312.5,160.9 312.8,152.7 316.1,151.1 317.7,146.2 316.1,142.9 317.7,139.6 318.5,138.0"/>
<polyline points="236.0,142.9 240.9,143.7 245.8,142.1 250.7,142.9 255.6,141.3 260.5,144.5 263.0,142.9 265.4,144.5 268.7,143.7 271.1,145.4 273.6,145.4"/>
<polyline points="236.0,138.8 239.3,140.5 243.4,138.8 245.0,138.0"/>
<polyline points="260.5,144.5 262.1,147.8 266.2,147.0 268.7,145.4"/>
<polyline points="296.5,143.7 298.9,140.5 301.4,138.0"/>
<polyline points="300.5,147.8 304.6,146.2 308.7,147.0 311.2,144.5 310.3,140.5 312.8,138.0"/>
<polyline points="301.4,151.9 300.5,154.3 303.0,156.0"/>
<polyline points="327.5,138.0 330.0,142.9 331.6,147.8 330.8,141.3 332.4,138.0"/>
<polyline points="320.2,193.6 323.4,195.2 327.5,194.4 330.8,196.8 336.0,195.2"/>
<polyline points="336.0,200.1 332.4,202.5 329.1,203.4 327.5,206.6 326.7,210.1"/>
<polyline points="236.0,205.8 239.3,202.5 243.4,200.4 247.4,200.9 251.0,202.5 249.9,205.0 245.8,204.2 241.7,205.3 238.5,208.3 236.0,210.1"/>
<polyline points="336.0,141.3 338.5,142.9 340.1,147.0 339.3,150.3 337.6,147.8 336.0,146.2"/>
<polyline points="344.2,150.3 346.6,147.8 347.8,149.8 345.8,154.3 343.8,157.6 342.5,155.2 344.2,150.3"/>
<polyline points="349.1,138.0 350.7,140.5 349.9,142.9"/>
<polyline points="360.5,142.9 363.0,141.3 365.4,142.9 363.8,145.4 362.1,147.8 364.6,151.1 366.2,153.5"/>
<polyline points="382.6,142.1 385.8,140.0 389.9,140.9 391.6,144.5 390.7,148.6 387.5,151.1 384.2,150.3 382.1,147.0 382.6,142.1"/>
<polyline points="391.6,140.5 394.0,139.6 396.1,141.3 394.0,143.2 391.6,142.6 391.6,140.5"/>
<polyline points="397.3,138.0 399.7,142.9 401.4,147.8 399.7,153.5 398.1,159.2 400.5,162.5 402.2,165.0 398.9,168.2 394.8,169.9 389.9,169.9 386.7,172.3 385.8,176.4 388.3,179.7 392.4,180.8 394.8,178.0 395.6,174.8 399.7,173.1 402.2,175.6 406.3,174.8 409.5,177.2 412.8,179.7 416.1,180.8 417.7,183.8 421.8,185.4 425.1,187.0 427.5,185.4 431.6,184.6 436.0,185.4"/>
<polyline points="352.3,172.3 354.8,173.1 356.4,176.4 359.7,178.0 363.0,179.7 365.4,182.1 368.7,182.9 371.1,185.4 375.2,186.2 378.5,187.8 377.7,191.1 375.2,192.7 371.9,190.3 369.5,187.8 366.2,187.0 364.6,189.5 363.0,192.7 360.5,195.2 358.1,198.1 355.6,195.2 353.2,193.6 350.7,195.2 349.9,192.7 351.5,189.5 352.3,185.4 351.5,180.5 351.5,176.4 352.3,172.3"/>
<polyline points="347.4,166.6 350.7,165.0 353.2,164.1 354.8,166.6 357.2,168.2 359.7,170.7 362.1,172.6 360.5,173.1 358.1,171.5 356.4,169.4"/>
<polyline points="352.3,167.4 349.9,170.7 348.3,176.4 345.8,178.8 342.5,178.0 339.3,176.4 336.0,174.8"/>
<polyline points="366.2,205.8 367.9,202.5 370.3,199.3 372.8,198.5 372.3,201.7 370.3,205.0 367.9,207.4 366.2,205.8"/>
<polyline points="382.6,202.5 385.8,202.1 386.7,205.8 385.0,209.1 383.1,208.3 382.6,202.5"/>
<polyline points="387.5,190.3 389.9,189.0 392.4,191.1 390.7,192.7 388.3,191.9 387.5,190.3"/>
<polyline points="391.6,187.0 394.0,186.7 395.2,188.3 392.9,188.3 391.6,187.0"/>
<polyline points="421.0,148.6 425.1,147.0 430.0,148.1 434.0,149.4 436.0,150.3"/>
<polyline points="436.0,160.9 432.4,160.1 429.1,157.6 426.7,155.2 424.2,153.5 425.1,151.1 421.0,148.6"/>
<polyline points="406.3,192.7 408.7,191.9 407.9,193.9 406.3,192.7"/>
<polyline points="392.4,210.1 391.6,203.4 393.2,199.3 397.3,197.6 401.4,198.1 405.4,196.0 409.5,194.4 413.6,195.2 416.1,197.6 419.3,198.8 422.6,200.1 425.9,199.3 430.0,200.9 434.0,202.5 436.0,206.6"/>
<polyline points="427.5,175.6 430.8,174.8 434.0,176.4 436.0,178.0"/>
<polyline points="428.3,177.2 431.6,178.8 436.0,180.8"/>
<polyline points="336.0,191.9 337.3,194.4 336.0,196.8"/>
<polyline points="444.2,138.0 443.4,141.3 445.0,144.5 442.5,147.8 444.2,151.9 442.5,154.3 445.0,158.4 443.4,160.9 440.1,159.2 437.6,160.9 440.9,165.0 444.2,168.2 446.6,172.3 445.8,175.6 448.3,177.2 447.4,179.7 444.2,176.4 441.7,178.8 438.5,180.5 440.9,183.8 445.0,185.4 445.8,187.8 442.5,188.7 438.5,187.0 436.0,186.2"/>
<polyline points="449.1,188.7 451.5,187.5 453.2,189.5 451.5,190.6 449.4,190.0 449.1,188.7"/>
<polyline points="457.2,210.1 458.1,208.3 456.4,203.4 455.6,200.1 458.1,199.3 460.5,201.7 463.8,204.2 467.0,206.6 470.3,209.1 471.1,210.1"/>
<polyline points="440.9,203.4 442.5,202.5 443.4,205.0 441.7,206.3 440.9,203.4"/>
<polyline points="492.4,138.0 495.6,141.3 499.7,143.7 504.6,145.4 509.5,147.8 512.8,149.4 516.1,151.1 518.5,153.5 520.2,151.9 522.6,152.7 525.1,155.2 527.5,153.5 530.8,150.3 534.0,148.6 536.0,149.4 539.3,147.8 543.5,151.1 548.1,147.8 544.7,142.4 543.5,138.0"/>
<polyline points="126.8,190.2 126.8,200.0 128.8,209.8 129.8,221.2 130.9,229.4 135.5,236.8 132.6,241.7 129.3,245.8 126.8,249.0 128.8,253.9 128.2,257.2 129.8,261.3 128.8,265.4 130.1,272.1"/>
<polyline points="113.0,195.1 113.0,200.0 112.1,204.9 114.6,208.2 113.0,212.3 112.1,217.2 113.0,222.9 115.4,219.6 117.0,215.5 116.2,211.4 118.7,209.0 121.1,211.4 123.6,209.8 126.0,212.3 124.4,215.5 121.9,218.0 119.5,220.4 117.0,222.9 116.2,227.0 117.9,229.4 120.3,227.0 122.8,224.5 125.2,222.9 126.0,226.1 124.4,229.4 126.0,232.7 127.7,235.1 128.8,239.2 126.8,243.3 125.2,240.8 123.3,238.4 122.8,234.3 121.1,231.9 119.5,235.1 117.9,238.4 116.2,240.8 115.1,237.6 116.2,233.5 117.9,229.4"/>
<polyline points="118.7,196.7 118.7,200.0 121.1,204.1 124.4,205.7 126.0,209.0 123.6,209.8"/>
<polyline points="122.8,200.8 125.2,203.3 124.9,206.5"/>
<polyline points="114.6,201.6 117.0,203.3 116.2,206.5 114.6,208.2"/>
<polyline points="119.5,213.1 121.1,215.5 119.5,218.0"/>
<polyline points="121.1,221.2 123.3,219.6 124.9,220.9"/>
<polyline points="124.4,233.5 126.0,236.8 124.9,239.2"/>
<polyline points="110.5,246.6 113.0,245.4 116.2,247.4 118.7,249.0 117.0,251.5 114.6,253.9 113.8,258.0 112.1,260.5 113.0,265.4 111.8,266.2 110.5,261.3 111.3,256.4 110.5,252.3 110.5,246.6"/>
<polyline points="123.3,253.1 125.2,255.6 123.9,258.0 126.0,260.5 124.9,262.9 126.8,265.4 126.0,268.6 127.7,271.1"/>
<polyline points="205.6,206.5 208.1,205.2 210.5,207.4 213.0,210.6 215.4,212.7 214.6,209.8 217.0,209.0 218.7,211.4 221.1,209.0 223.6,206.5 223.9,202.5 224.9,198.4 225.9,191.8 226.8,195.9 227.7,200.0 228.5,203.3 230.9,204.9 231.8,208.2 234.2,207.4 236.7,204.9 239.9,202.5 243.2,200.8 248.1,200.8 251.4,202.5 248.9,204.6 244.8,204.1 240.7,205.7 237.5,208.2 235.0,210.1 232.6,211.1 229.3,213.1 226.0,215.0 221.9,215.5 217.9,215.0 214.6,213.9 212.1,211.4 209.7,209.0 206.4,208.2 205.6,206.5"/>
<polyline points="235.0,240.0 238.3,238.4 241.6,235.1 244.0,231.9 246.1,229.9 247.3,231.0 246.5,233.5 249.7,234.6 254.6,236.3 259.5,237.9 255.4,237.9 250.5,237.3 245.6,237.9 241.6,238.9 238.3,240.8 235.0,240.0"/>
<polyline points="274.2,267.8 275.9,262.1 277.5,256.4 280.4,251.0 282.4,253.9 281.1,258.0 279.1,262.1 278.3,266.2 275.9,267.3 274.2,267.8"/>
<polyline points="339.9,193.5 336.7,195.9 334.2,200.0 334.7,202.5 332.6,204.9 329.3,206.2 326.8,207.4 325.2,211.4 322.8,215.5 321.1,218.8 317.9,220.4 318.7,224.5 317.0,232.7 316.2,242.5 317.9,244.9 321.1,245.4 325.2,245.8 326.8,252.3 329.3,257.2 330.1,262.1 332.6,260.8 336.7,259.2 341.6,260.8 347.3,262.9 352.2,265.4 356.3,268.3 361.2,271.1 366.1,272.1"/>
<polyline points="369.3,200.0 367.7,203.3 366.1,207.4 368.5,206.5 371.0,202.5 371.8,200.0"/>
<polyline points="383.2,200.0 382.1,203.3 382.4,208.2 386.0,209.0"/>
<polyline points="319.5,246.1 319.8,247.7"/>
<polyline points="392.5,200.0 394.2,204.9 396.6,207.4 395.8,213.1 397.4,216.3 399.9,219.6 402.3,224.5 399.9,227.8 396.6,231.0 395.8,235.1 399.9,237.6 403.2,239.2 406.4,243.3 409.7,248.2 411.8,253.9 412.1,260.5 410.5,265.4 408.1,269.4 405.6,272.1"/>
<polyline points="412.1,253.9 414.6,253.1 415.4,256.4 413.8,257.2"/>
<polyline points="395.8,261.3 397.4,258.0 399.9,256.4 401.5,259.6 400.7,262.9 398.3,262.1 396.6,263.7 395.8,261.3"/>
<polyline points="420.3,200.0 423.6,202.5 427.7,203.3 431.8,201.6 435.0,203.3 435.8,207.4 434.2,211.4 430.1,213.1 435.0,212.3 438.3,214.7 440.7,218.0 441.6,220.4 438.3,221.2 437.5,223.7 439.9,222.9 442.4,220.4 444.8,219.6 447.3,221.2 448.9,223.7 449.7,226.1 447.3,228.6 445.6,230.2 448.9,227.0 451.4,223.7 454.6,221.2 457.1,218.0 457.9,214.7 457.1,209.8 457.9,204.9 457.1,200.0"/>
<polyline points="457.1,200.0 460.3,202.5 464.4,206.5 467.7,209.0 470.2,210.6 472.6,213.9 475.9,215.5 479.1,217.2 482.4,219.6 484.0,222.9 486.0,224.5"/>
<polyline points="441.6,203.3 442.9,204.1 442.4,205.7 441.2,204.9 441.6,203.3"/>
<polyline points="476.0,214.7 479.3,217.2 481.7,219.6 484.2,221.2 483.4,225.3 481.7,227.0 485.0,226.1 487.4,229.4 491.5,230.2 495.6,231.0 498.9,233.5 502.1,232.7 505.4,231.9 508.7,233.5 511.9,231.9 515.2,232.7 516.0,235.1 514.4,237.6 511.1,240.8 507.9,244.9 506.2,248.2 502.1,248.7 506.2,249.8 508.7,246.6 511.1,242.5 514.4,239.2 516.8,236.8 519.3,238.4 520.9,241.7 521.8,238.4 525.0,237.6 528.3,238.4 529.9,241.7 532.4,244.1 534.8,247.4 535.2,252.3 533.2,256.4 529.9,258.8 526.7,262.1 524.2,267.0 523.4,272.1"/>
<polyline points="535.2,252.3 537.3,253.1 538.9,256.4 539.4,262.1 540.1,267.0 541.4,272.1"/>
<polyline points="533.2,256.4 534.0,262.1 534.5,268.6 534.8,272.1"/>
<polyline points="540.1,267.0 543.8,266.2 547.9,267.8 551.2,267.0 555.2,266.2 559.3,264.5 561.0,267.0 562.6,269.4 565.1,270.3 566.7,272.1"/>
<polyline points="131.4,272.0 130.1,276.1 131.8,279.4 129.3,281.8 130.1,285.1 133.4,287.5 135.8,288.3 135.0,291.6 138.3,294.1 142.4,295.7 143.2,299.8 145.6,302.2 147.3,306.3 149.4,309.6 150.5,313.7 147.3,316.1 148.9,318.6 148.1,322.7 146.5,325.9 144.0,329.2 142.4,328.4 144.8,324.3 146.5,320.2 144.8,316.9"/>
<polyline points="123.6,285.9 126.0,285.1 127.7,287.5 130.1,290.0 133.4,293.2 136.7,296.5 139.1,300.6 141.6,304.7 144.0,308.8 145.6,312.8 146.5,316.1 144.0,316.9 140.7,314.8 137.5,312.0 135.0,308.8 132.6,305.5 130.9,302.2 128.8,299.0 126.8,294.9 124.9,290.8 123.6,285.9"/>
<polyline points="135.8,315.3 135.0,321.0 135.3,328.4 134.2,334.1 132.6,339.0 130.9,344.1"/>
<polyline points="134.2,334.1 136.7,335.7 139.1,337.4 139.9,340.6 139.6,344.1"/>
<polyline points="150.5,313.7 159.5,315.8 171.0,319.4 186.0,323.5"/>
<polyline points="182.4,324.3 181.1,334.1 179.1,344.1"/>
<polyline points="146.8,321.0 148.1,321.8 147.3,324.3 145.6,326.7 143.5,327.6"/>
<polyline points="134.7,330.0 133.6,335.5 129.2,347.6 124.8,356.5 120.3,365.3 118.8,373.0 115.9,380.7 112.6,387.8 113.1,396.2 115.3,405.0 118.1,412.7 119.2,418.2 118.1,422.7 120.3,429.3 122.5,438.1 124.8,446.9 130.3,452.4 136.9,458.0 141.3,463.5 143.5,469.0 144.6,473.0"/>
<polyline points="118.1,412.7 119.7,411.6 121.0,414.9 119.7,417.1 118.4,415.6"/>
<polyline points="134.7,330.0 139.1,336.6 141.3,344.3 150.1,345.9 163.4,348.1 177.7,350.3"/>
<polyline points="182.1,330.0 177.7,350.3 178.8,355.4 172.2,365.3 170.0,374.1 167.3,386.3"/>
<polyline points="118.8,373.0 145.7,381.8 167.3,386.3 187.6,391.8 207.5,395.7"/>
<polyline points="146.4,382.5 139.1,407.2 170.0,455.7"/>
<polyline points="187.6,392.2 177.7,438.1 175.5,443.6 171.1,445.8 170.0,455.7 171.7,462.4 167.8,467.9 165.6,473.0"/>
<polyline points="187.6,330.0 189.8,336.6 193.1,343.2 194.2,352.1 192.0,357.6 195.3,360.9 198.7,366.4 200.9,370.8 207.5,370.8 210.8,370.2"/>
<polyline points="211.9,369.7 241.0,373.0"/>
<polyline points="211.9,369.7 207.0,405.0 241.0,408.3"/>
<polyline points="220.7,406.8 215.2,444.7 211.4,473.0"/>
<polyline points="177.7,438.1 215.2,444.7 241.0,448.0"/>
<polyline points="193.1,397.3 195.3,396.2 196.9,400.6 199.8,403.9 198.7,406.1 195.3,405.0 193.8,401.0 193.1,397.3"/>
<polyline points="123.6,453.5 128.1,454.6"/>
<polyline points="127.0,462.4 128.1,463.0"/>
<polyline points="133.6,462.4 135.8,463.5"/>
<polyline points="133.6,467.9 135.1,469.0"/>
<polyline points="211.9,330.0 241.0,334.4"/>
<polyline points="241.0,334.9 263.1,337.1 305.0,338.8 317.1,338.8"/>
<polyline points="263.1,337.1 261.3,365.3 258.6,374.1 258.6,394.0 256.0,410.5"/>
<polyline points="261.3,365.3 307.2,367.5"/>
<polyline points="258.6,394.0 293.9,395.1 303.9,396.2 307.2,398.4 309.8,396.2"/>
<polyline points="241.0,410.5 256.0,410.5 269.7,413.4 269.2,422.7 267.5,450.2"/>
<polyline points="269.2,422.7 318.2,423.8"/>
<polyline points="241.0,448.0 267.5,450.2 324.8,451.3"/>
<polyline points="241.0,372.4 258.6,374.1"/>
<polyline points="260.9,450.2 259.1,473.0"/>
<polyline points="260.9,455.7 282.9,456.8 282.5,473.0"/>
<polyline points="305.0,338.8 306.1,352.1 307.6,367.5 308.3,374.1 309.4,389.6"/>
<polyline points="309.4,389.6 344.7,389.1"/>
<polyline points="309.4,389.6 309.8,396.2 312.7,405.0 314.9,413.8 317.1,418.2 320.4,423.8 323.1,428.2 324.4,433.7 324.8,451.3 325.9,473.0"/>
<polyline points="317.1,417.8 344.7,416.5"/>
<polyline points="344.7,389.1 346.9,396.2 351.3,398.4 353.5,403.9 350.2,408.3 348.0,412.7 345.8,417.1 346.9,422.7 351.3,428.2 355.7,433.7 356.8,440.3 361.2,445.8 364.5,450.2 362.3,456.8 359.0,459.1 361.9,462.4 360.1,467.9 357.9,473.0"/>
<polyline points="351.3,397.3 369.0,395.7"/>
<polyline points="364.5,450.2 367.8,449.1 376.0,448.0"/>
<polyline points="324.8,456.2 356.8,454.6 360.1,460.2"/>
<polyline points="353.2,402.0 352.3,406.1 349.1,408.5 347.8,411.0 349.9,413.4 347.4,416.7 345.8,418.3 346.6,422.4 349.9,426.5 352.3,430.6 355.6,432.2 356.4,436.3 358.9,439.6 361.3,442.8 363.0,446.9 365.4,449.4 363.8,452.7 362.1,455.9 361.3,459.2 358.1,459.5 358.9,456.7 362.1,455.9 360.5,462.5 358.9,467.4 357.2,474.1"/>
<polyline points="336.0,417.0 345.8,417.5"/>
<polyline points="336.0,455.9 357.2,454.6 358.1,459.2"/>
<polyline points="372.8,402.0 374.4,411.8 375.2,421.6 376.0,430.6 374.4,436.3 372.8,440.4 371.1,445.3 367.9,447.8 365.4,449.4"/>
<polyline points="392.4,402.0 394.0,413.4 395.6,424.9"/>
<polyline points="372.8,440.4 376.8,438.8 380.1,439.6 383.4,437.1 385.8,435.5 388.3,436.3 390.7,432.2 393.2,429.0 395.6,424.9 398.9,426.5 403.0,428.1 407.9,427.3 411.2,426.5 413.6,428.1 416.1,423.2 419.3,419.2 422.6,416.7 423.4,413.4 422.6,408.5 421.8,402.0"/>
<polyline points="413.6,428.1 415.2,432.2 419.3,436.3 422.6,438.3 427.5,436.3 430.8,432.2 433.2,428.1 436.0,424.1"/>
<polyline points="422.6,438.3 416.1,442.0 410.3,445.3 406.3,447.8"/>
<polyline points="363.8,452.7 385.0,450.2 406.3,447.4 421.0,445.3 436.0,442.8"/>
<polyline points="360.5,468.7 375.2,467.4 395.6,464.9 412.8,462.8 421.0,459.2 429.1,457.6 436.0,458.4"/>
<polyline points="422.6,446.1 417.7,451.0 412.8,455.9 407.9,460.0 405.4,462.1"/>
<polyline points="412.8,462.8 417.7,467.4 421.8,472.3 424.2,474.1"/>
<polyline points="375.2,467.4 376.0,474.1"/>
<polyline points="395.6,464.9 398.1,474.1"/>
<polyline points="423.4,413.4 436.0,411.0"/>
<polyline points="317.3,333.5 318.6,332.2 320.6,331.5 322.5,332.8 323.2,335.5 321.9,337.4 319.9,338.1 318.0,337.4 317.3,335.5 317.3,333.5"/>
<polyline points="318.4,333.1 321.2,332.6 322.3,335.7 319.7,337.3 318.1,335.7 320.4,334.2 319.9,336.5"/>
<polyline points="317.3,335.5 316.0,337.0"/>
<polyline points="321.9,337.4 325.2,339.4 328.4,340.7 330.4,342.6 333.0,342.0 335.6,344.0 338.2,344.6 340.8,345.7 344.1,344.6 347.4,345.3 350.2,345.9 351.9,344.6 353.9,342.6 355.2,340.7 357.2,338.7 359.1,337.4 361.1,335.7 363.7,336.8 367.0,336.5 370.2,336.1 372.5,337.4 374.2,340.0 375.5,342.6 378.1,343.3 380.7,342.0 382.7,344.0 383.3,347.2 384.6,350.5 385.9,352.5 387.2,354.4 389.2,355.7 391.8,357.0 396.0,357.7"/>
<polyline points="355.2,345.9 357.2,344.6 358.9,343.6 358.1,344.9 356.3,346.2 355.2,345.9"/>
<polyline points="350.2,346.2 347.4,349.2 344.1,351.8 340.8,355.1 338.2,357.7 336.9,359.2"/>
<polyline points="336.9,359.2 340.2,358.3 343.5,357.0 346.1,356.4 346.7,359.0 348.0,360.0 348.7,357.7 351.3,356.4 353.9,354.8 356.5,353.1 359.1,351.1 361.8,349.6 364.6,349.2 363.1,350.9 361.1,353.1 360.2,355.3 361.1,356.4 363.7,355.7 367.0,356.4 369.6,357.4 372.2,357.7 374.8,356.4 378.1,355.3 381.4,354.4 384.0,354.8 385.9,355.7 387.2,357.7 389.2,358.7 392.5,359.2 396.0,359.2"/>
<polyline points="336.9,359.2 335.6,362.9 334.0,366.2 333.3,370.1 334.3,373.4 333.6,376.6 335.6,379.2 338.9,381.9 342.1,384.5 343.5,385.4"/>
<polyline points="348.0,360.0 351.3,360.9 355.2,362.3 359.1,363.6 362.4,364.9 365.0,366.8 366.3,369.4 367.2,372.1 368.0,374.7"/>
<polyline points="368.0,374.7 368.9,372.1 370.2,369.4 371.6,366.8 372.5,364.2 373.5,365.5 372.5,368.8 370.9,372.1 369.3,375.3 368.3,377.3 367.6,375.3"/>
<polyline points="371.6,370.1 372.9,368.1 372.2,370.8 370.9,373.4 369.6,376.6 368.9,379.9 368.9,385.4"/>
<polyline points="370.9,364.2 373.5,363.6 374.8,365.5 374.2,366.8"/>
<polyline points="377.2,385.4 377.4,379.9 378.1,374.7 379.4,370.8 380.7,367.5 382.7,364.9 385.3,362.9 389.2,360.9"/>
<polyline points="381.4,368.8 382.0,370.8 382.7,368.8"/>
<polyline points="376.4,344.6 377.4,345.7"/>
<polyline points="376.0,355.7 381.2,355.0 385.8,353.1 387.1,355.7 389.1,357.6 393.0,357.0 398.2,356.7 402.1,357.0 405.4,356.7 408.7,356.3 411.3,357.0 413.3,359.0 415.2,360.9 417.2,363.5 418.5,365.5 420.4,366.1 418.5,367.7 416.5,366.8 417.6,368.8 415.2,369.4 412.6,368.1 410.2,366.1 408.0,364.2 406.7,362.9"/>
<polyline points="389.1,358.3 393.0,359.0 398.2,359.6 402.1,359.9 405.4,359.6 406.7,360.9 407.4,362.9"/>
<polyline points="385.8,361.6 388.4,362.9 391.7,364.2 394.3,366.1 396.3,368.8 396.9,372.7 396.3,375.9 395.0,378.6 395.6,381.2 397.6,379.9 399.5,377.9 401.5,376.9 402.8,378.6 403.7,381.8 404.5,385.1 405.4,389.0"/>
<polyline points="406.7,362.9 408.7,365.5 410.2,368.1 409.7,371.4 408.7,375.3 408.0,379.2 407.4,383.1 406.3,386.4 405.4,389.0"/>
<polyline points="385.8,361.6 383.2,363.5 380.6,366.1 378.6,370.1 377.3,375.3 377.0,380.5 378.0,385.8 379.3,390.3 379.9,394.9 379.3,400.0"/>
<polyline points="381.2,370.7 381.9,372.7"/>
<polyline points="442.7,366.8 445.3,364.2 447.2,360.9 449.9,357.6 453.1,355.4 456.0,354.4"/>
<polyline points="405.6,389.5 404.1,390.5 403.6,391.5 404.1,392.9 406.6,392.0 405.6,389.5"/>
<polyline points="403.6,392.9 402.7,394.4 401.7,397.4 400.7,399.3"/>
<polyline points="403.6,394.4 407.1,392.9 410.5,390.5 413.9,388.0 417.4,387.1 420.8,386.1 424.2,384.6 427.2,383.6 429.1,382.6"/>
<polyline points="400.7,399.3 404.1,400.8 407.6,400.3 411.5,399.3 414.9,396.9 418.4,394.4 421.3,392.5 423.7,390.5 426.2,387.5 428.2,384.6 429.1,382.6"/>
<polyline points="366.4,400.8 386.0,400.3 390.9,399.8 400.7,399.3"/>
<polyline points="390.9,399.8 392.4,410.0"/>
<polyline points="421.3,392.5 422.8,402.3 423.3,410.0"/>
<polyline points="423.7,390.5 425.2,391.0 435.0,389.5 446.0,387.1"/>
<polyline points="422.8,379.7 423.7,376.8 425.7,374.8 429.1,372.8 433.1,371.4 437.0,369.9 439.9,368.9 441.9,367.5 443.8,366.0 444.8,365.0 447.3,363.0 448.7,364.5 447.8,367.5 446.0,369.4 443.8,371.9 440.9,373.8 437.0,375.3 433.1,375.8 429.1,377.3 426.2,379.2 423.7,381.2 422.8,379.7"/>
<polyline points="429.1,382.6 428.2,380.7 427.7,379.7"/>
<polyline points="426.0,374.1 430.1,371.7 435.8,369.2 439.9,368.4 443.2,369.2 445.6,371.7 442.3,373.3 438.3,374.9 432.5,377.4 427.6,379.8 426.0,380.7"/>
<polyline points="443.2,369.2 441.5,366.8 444.0,365.1 446.4,362.7 448.1,359.4 452.1,356.1 457.0,354.2 461.9,352.9 470.9,349.9 474.2,346.3 475.8,339.8 477.0,333.3 478.0,330.0"/>
<polyline points="461.9,352.9 462.8,358.6 464.4,365.1 466.8,372.5 468.2,379.0 469.3,385.6 469.8,389.6"/>
<polyline points="474.2,346.3 473.4,351.2 472.1,357.8 471.4,364.3 470.9,371.7"/>
<polyline points="475.8,346.3 478.3,354.5 481.6,362.7 484.0,368.4"/>
<polyline points="467.2,372.8 470.9,371.7 484.0,368.9 485.6,370.8"/>
<polyline points="468.2,379.0 483.2,376.6"/>
<polyline points="480.7,377.1 481.6,382.3"/>
<polyline points="492.2,330.0 494.6,333.3 497.9,337.4 501.5,340.6 499.5,343.1 496.3,345.5 493.8,348.0 491.4,350.4 488.9,352.9 486.5,355.3 484.8,358.6 484.0,362.7 483.5,368.4 485.6,370.8 488.9,372.8 491.4,374.9 490.5,377.4 493.0,379.0 490.5,379.8 487.3,379.0 484.8,379.0 483.2,377.4 482.4,382.3 478.3,385.6 474.2,388.8 469.8,391.8 466.8,394.5"/>
<polyline points="491.4,348.0 493.8,349.3 492.7,351.2"/>
<polyline points="494.6,345.5 496.6,347.2"/>
<polyline points="488.9,372.8 490.5,374.4 491.7,372.8 491.0,370.8 489.4,370.8"/>
<polyline points="466.8,394.5 470.9,392.1 475.0,389.6 479.1,386.4 481.6,384.7 478.3,388.0 473.4,391.3 468.5,394.1 466.8,394.5"/>
<polyline points="426.0,392.1 435.8,389.6 447.2,386.4 456.2,384.2 457.9,387.2 460.3,392.1 462.8,390.5 465.2,392.9 466.8,394.5 467.7,398.6 468.8,402.1"/>
<polyline points="460.3,392.1 461.1,395.4 460.0,398.6 461.1,402.1"/>
<polyline points="501.5,340.6 504.4,336.5 507.7,332.5 509.3,330.0"/>
<polyline points="516.7,330.0 515.1,331.6 511.8,334.9 509.3,338.2 507.7,341.4 511.0,346.3 515.1,348.3 517.5,345.5 519.1,339.8 521.6,335.7 524.0,333.3 526.0,331.6"/>
<polyline points="426.0,414.3 442.3,411.0 461.1,406.9"/>
<polyline points="432.5,415.1 435.8,411.8 439.9,413.4 444.0,411.0 446.4,413.4 450.5,417.5 453.0,420.8 456.2,422.4 458.7,424.9 461.1,426.5 463.6,429.0 464.4,431.4"/>
<polyline points="442.3,411.8 439.9,418.3 435.8,423.2 433.4,428.1 430.9,433.0 426.0,437.1"/>
<polyline points="458.7,402.0 457.0,405.3 455.4,409.4 454.6,413.4 456.2,416.7 455.4,420.0 457.9,421.6 457.0,424.9 459.5,426.5 458.7,429.0 461.1,430.6 462.8,432.2 464.4,434.7"/>
<polyline points="460.3,405.3 459.5,409.4 460.6,413.4 460.0,417.5 461.9,420.0 461.6,423.2 463.6,425.7 464.4,429.0 464.9,432.2"/>
<polyline points="470.1,402.0 468.8,406.1 466.8,411.0 466.0,415.9 465.5,420.8 465.2,426.5 464.9,432.2"/>
<polyline points="463.6,402.0 462.8,405.3 464.4,408.5 466.5,410.2"/>
<polyline points="461.1,406.9 462.8,414.3 466.0,414.3"/>
<polyline points="426.0,444.5 445.6,439.9 465.2,435.5"/>
<polyline points="464.4,434.7 466.5,437.1 468.8,440.4 470.9,443.7 471.4,446.4 469.3,449.4 466.8,451.8 464.4,454.0 461.9,456.7 459.5,459.2 457.9,462.1 455.4,464.9 452.1,466.5 449.7,469.0 448.1,472.3 447.2,474.1"/>
<polyline points="464.4,438.8 462.8,441.2 465.2,442.8 466.8,444.8 464.9,446.4 462.3,445.8 460.3,447.8 462.8,449.4 465.2,450.2 464.4,452.7 461.9,451.8 460.0,451.0 460.6,454.3"/>
<polyline points="426.0,457.6 430.9,458.4 437.4,459.2 442.3,460.0 447.2,463.3 451.3,466.1"/>
<polyline points="455.4,411.8 457.4,414.3 456.4,417.5"/>
<polyline points="457.9,408.5 458.7,411.8"/>
<polyline points="148.8,496.0 150.9,500.9 153.4,505.8 155.8,510.7 158.3,514.8 159.9,519.7 158.3,524.6 154.2,525.4 151.8,524.6 153.4,527.9 156.7,531.1 159.9,534.4 163.2,537.7 165.6,540.9 168.9,545.0 171.4,549.9 172.2,554.8 170.5,558.1 173.0,560.5 176.3,563.0 178.7,568.1"/>
<polyline points="150.1,518.9 151.4,520.5"/>
<polyline points="126.1,504.5 127.2,505.0 126.8,507.4 125.9,506.8 126.1,504.5"/>
<polyline points="160.7,496.0 161.6,500.9 163.2,505.8 165.6,509.9 168.1,513.2 170.5,517.2 172.2,522.1 174.6,527.0 176.3,531.1 177.9,536.0 178.7,540.1 180.3,545.0 182.8,549.9 184.4,554.8 185.2,559.7 186.9,564.6 187.7,568.1"/>
<polyline points="167.3,510.7 168.9,512.3 169.7,514.8 168.1,513.6 167.3,510.7"/>
<polyline points="175.4,516.4 177.1,515.3 177.9,517.2 176.3,518.5 175.4,516.4"/>
<polyline points="176.6,539.3 177.9,540.4 177.2,541.8 176.6,539.3"/>
<polyline points="173.8,496.0 174.6,500.9 176.3,505.8 177.9,510.7 180.3,515.6 182.8,520.5 184.4,525.4 187.7,529.5 189.3,534.4 191.0,538.5 194.2,542.6 196.7,547.5 199.1,552.4 201.6,555.6 204.0,558.9 206.0,560.5"/>
<polyline points="144.6,473.0 146.8,482.9 148.8,496.0"/>
<polyline points="144.6,474.1 164.5,477.0 166.7,473.0"/>
<polyline points="162.3,478.5 188.7,495.1 207.5,499.0 214.1,498.4 215.2,495.1 227.3,496.2 241.0,495.1"/>
<polyline points="160.7,496.0 160.7,485.1 167.0,490.0 172.2,495.1 173.8,496.0"/>
<polyline points="210.8,473.0 207.5,499.0"/>
<polyline points="258.2,473.0 256.9,497.3 241.0,495.1"/>
<polyline points="282.5,473.0 285.1,476.3 291.7,478.5 298.4,480.7 303.9,482.3 308.3,481.4 313.8,482.9 320.4,481.8 325.9,482.9 329.7,485.1"/>
<polyline points="325.9,473.0 326.6,482.9"/>
<polyline points="329.7,485.1 330.3,489.5 353.5,488.4"/>
<polyline points="330.3,489.5 330.3,497.3 333.7,503.9 334.8,510.5 333.7,517.1 331.4,520.4"/>
<polyline points="356.8,473.0 353.9,479.6 354.6,487.3 353.5,488.4 355.7,495.1 352.4,501.7 350.9,507.2 366.7,506.5 367.8,511.6 370.1,513.8"/>
<polyline points="331.4,520.4 328.1,522.6 324.8,521.5 323.7,524.8 319.3,527.0 316.0,530.4 311.6,532.6 308.3,535.9 305.0,539.2 302.3,543.6 300.6,548.0 301.7,552.4 303.9,557.9 305.0,561.2 303.9,564.6"/>
<polyline points="324.4,521.1 325.7,523.3 323.5,525.9"/>
<polyline points="307.2,532.6 309.8,531.5 311.2,533.7"/>
<polyline points="303.4,538.1 306.3,537.0"/>
<polyline points="300.1,544.7 302.8,543.2"/>
<polyline points="241.0,513.8 245.4,519.3 250.9,524.8 255.3,527.0 258.6,521.5 263.1,519.3 268.6,520.4 273.0,524.8 276.3,531.5 280.7,539.2 285.1,545.8 289.5,552.4 296.2,556.8 301.7,560.1 304.5,562.3 303.9,564.6 301.7,568.1"/>
<polyline points="331.4,520.4 335.9,519.3 341.4,520.4 346.9,519.8 351.3,522.6 355.7,524.8 360.1,525.9 364.5,523.7 369.0,524.8 373.4,522.6 376.0,521.5"/>
<polyline points="360.1,513.8 364.5,512.7 369.0,514.9 373.4,512.7 376.0,513.8"/>
<polyline points="361.2,516.0 366.7,517.1 371.2,519.3 367.8,520.4 363.4,518.2 361.2,516.0"/>
<polyline points="333.7,519.8 338.1,518.2 342.5,519.3 344.7,521.5"/>
<polyline points="398.1,473.0 400.3,479.6 403.6,488.4 404.7,499.5 405.8,503.9"/>
<polyline points="405.8,503.9 417.9,502.8 430.0,501.7 431.2,499.0 433.8,499.0 434.5,495.1"/>
<polyline points="384.8,506.1 389.2,503.9 405.8,503.9"/>
<polyline points="447.7,473.0 442.2,479.6 437.8,484.0 435.6,489.5 434.5,495.1 435.1,501.7 436.7,508.3 440.0,513.8 443.3,518.2 446.6,522.6 449.9,528.2 453.2,534.8 454.3,541.4 455.0,548.0 453.2,553.5 449.9,556.8 446.6,559.0 443.3,560.1 447.7,557.9 452.1,554.2"/>
<polyline points="438.2,481.4 440.0,482.9"/>
<polyline points="376.0,510.5 379.3,511.6 382.6,509.4 384.8,506.1 383.7,509.4 387.0,508.3 391.4,509.4 397.0,509.4 401.4,511.6 404.7,514.9 409.1,513.8 412.4,510.5 415.7,509.4 419.0,511.6 422.3,514.9 425.6,517.1 427.8,521.5 428.9,527.0 430.0,531.5 432.3,534.8 434.5,538.1 436.7,541.4 440.0,544.7 443.3,548.0 446.6,551.3 449.9,553.5 452.1,554.2"/>
<polyline points="428.9,528.2 431.2,529.3 430.7,531.5 429.4,529.9"/>
<polyline points="435.6,537.4 437.3,539.2 436.7,540.9"/>
<polyline points="445.5,533.7 447.7,532.1 449.9,533.7 449.2,536.5 446.6,537.0 445.5,533.7"/>
<polyline points="376.0,486.2 377.1,512.7"/>
<polyline points="463.1,534.3 466.4,533.0 470.9,531.5 474.2,529.3 477.5,529.9 479.7,532.6 480.8,537.0 479.2,538.1"/>
<polyline points="473.1,549.1 475.3,546.9 477.5,549.1 479.7,552.4 481.9,555.7 483.0,559.0 480.8,557.9 478.6,554.6 475.3,553.5 473.1,549.1"/>
<polyline points="485.2,540.3 488.5,541.4 491.8,543.2 492.9,545.8"/>
<polyline points="497.3,546.9 499.5,549.1 501.7,551.3"/>
<polyline points="504.0,555.7 507.3,559.0 508.4,561.2"/>
<polyline points="508.4,548.0 510.1,549.1"/>
<polyline points="421.2,473.0 427.8,476.3 433.4,481.8 436.7,485.1"/>
<polyline points="444.4,517.1 445.7,519.3 444.8,521.1"/>
<polyline points="170.6,319.8 186.0,324.2 208.1,329.3 230.1,333.7 262.1,337.0 305.1,338.8 318.4,338.1"/>
<polyline points="262.1,337.0 261.0,358.0"/>
<polyline points="187.8,324.9 188.6,334.8 191.5,342.5 194.8,349.1 192.6,358.0"/>
<polyline points="297.4,288.5 299.6,287.4 301.8,289.6 300.7,292.9 302.9,297.3 305.1,302.8 306.2,309.4 305.1,314.9 302.9,312.7 300.7,309.4 298.5,306.1 296.3,301.7 294.1,297.3 295.2,292.9 297.4,288.5"/>
<polyline points="306.2,314.9 309.1,313.8 310.6,318.3 310.0,323.8 307.3,326.0 306.2,321.6 306.2,314.9"/>
<polyline points="282.4,299.5 286.4,299.9 290.8,302.8 291.4,307.2 288.6,309.4 289.7,313.2 293.0,312.3 295.6,313.8 296.3,319.4 298.5,323.8 299.6,327.1 296.3,327.7 294.5,322.7 294.1,317.2 291.4,314.9 288.6,313.2 287.9,309.4 286.4,305.0 283.1,302.8 282.4,299.5"/>
<polyline points="274.2,267.5 276.4,263.1 277.6,259.8 279.1,260.9 278.2,265.3 276.0,268.2 274.2,267.5"/>
<polyline points="298.5,288.0 300.3,288.9 299.4,290.7"/>
<polyline points="343.1,262.0 349.7,265.3 356.3,268.6 362.9,271.9 368.4,274.1 368.4,278.5 369.5,274.1 378.4,273.0 385.0,274.1 386.7,279.6 387.2,286.3 389.4,291.8 391.6,295.1 393.8,299.5 392.7,301.7 396.0,300.6 399.3,302.8 402.6,305.0 401.5,308.3 400.4,310.1 403.7,307.2 407.0,306.1 408.1,302.8 411.4,303.9 412.6,300.6 411.4,296.2 414.8,295.1 410.3,290.7 408.1,284.1 405.9,279.6 402.6,276.3 401.5,274.1 405.9,270.8 409.2,266.4 411.4,262.0"/>
<polyline points="390.5,291.8 393.8,290.2 397.1,291.1 398.2,293.3 394.9,295.1 391.6,294.6 390.5,291.8"/>
<polyline points="397.1,262.0 399.3,263.1 400.9,262.0"/>
<polyline points="327.6,262.0 330.9,263.1"/>
<polyline points="525.6,262.0 523.6,267.9 521.7,273.8 519.7,276.7 516.8,278.7 512.9,280.6 507.0,282.6 501.1,285.5 495.2,287.5 489.3,290.4 485.4,293.4 484.4,298.3 482.5,302.2 479.5,305.1 477.6,309.1 475.6,314.0 473.6,318.9 471.7,323.8 469.7,328.7 468.7,332.6"/>
<polyline points="498.2,290.4 502.1,289.1 507.0,288.5 511.9,289.1 515.8,290.4 512.9,291.8 508.0,292.6 503.1,292.4 499.1,291.8 498.2,290.4"/>
<polyline points="468.7,332.6 471.7,327.7 474.6,322.8 477.6,316.9 480.5,312.0 483.5,308.1 487.4,304.2 491.3,300.2 495.2,298.3 500.1,297.3 503.1,299.3 504.6,302.2 503.1,306.1 500.1,309.1 496.2,309.1 493.3,311.0 497.2,310.0 502.1,309.1 504.0,311.0 505.0,314.9 507.4,317.9 509.9,319.8 511.9,321.8 514.8,322.8 518.7,321.8 523.6,320.8 527.6,318.9 530.5,316.9 533.5,317.9 535.4,319.8 533.5,321.8 531.5,324.7 528.5,328.7 525.6,331.6 522.7,334.5 520.7,337.5 518.7,340.4 517.8,344.4 516.8,346.9"/>
<polyline points="509.9,314.9 511.9,313.4 514.8,314.9 518.7,315.3 522.7,314.0 525.6,313.4 526.2,315.3 523.6,317.3 519.7,318.5 514.8,318.9 511.9,317.9 509.9,314.9"/>
<polyline points="531.5,305.1 533.5,304.2 534.4,308.1 536.0,311.0 538.4,309.1 540.7,310.0 539.9,313.0 537.4,314.9 535.4,317.3 533.5,317.9 531.5,314.9 530.9,311.0 531.5,305.1"/>
<polyline points="511.9,326.7 514.8,325.7 518.4,324.7 520.7,326.7 517.8,329.6 514.8,330.6 512.9,329.6 511.9,326.7"/>
<polyline points="511.9,328.7 509.9,334.5 508.9,340.4 509.9,346.9"/>
<polyline points="512.9,325.7 509.9,329.6 507.0,333.6 503.1,336.5 500.1,339.5 498.2,343.4 496.2,346.9"/>
<polyline points="477.6,322.8 480.5,321.8 484.4,320.8 487.4,324.7 490.3,329.6 493.3,334.5 496.2,337.5 500.1,339.5"/>
<polyline points="477.6,322.8 476.6,328.7 475.6,336.5 474.6,344.4 473.6,346.9"/>
<polyline points="534.4,262.0 535.4,267.9 536.4,273.8 536.0,279.6 534.4,285.5 533.5,288.5 536.4,287.5 535.4,293.4 536.4,296.3 540.3,294.4 545.2,292.4 550.1,289.5 554.0,286.5 557.0,284.5 556.0,288.5 558.9,286.5 561.9,283.6 562.9,288.5 564.8,284.5 563.8,280.6 566.8,278.7 569.7,281.6 571.7,285.5 573.6,281.6 572.7,277.7 569.7,273.8 567.8,269.8 565.8,272.8 563.8,268.9 561.9,265.9 559.9,269.8 557.0,266.9 554.0,268.9 550.1,270.8 547.2,267.9 544.2,269.8 542.3,266.9 540.3,264.0 539.3,262.0"/>
<polyline points="555.0,291.4 557.0,293.0"/>
<polyline points="504.4,555.2 509.3,560.1"/>
<polyline points="514.2,560.1 517.9,562.5"/>
<polyline points="526.5,560.6 530.2,561.1"/>
<polyline points="535.0,562.5 541.2,562.0"/>
<polyline points="484.8,540.5 490.2,542.5 492.7,545.9"/>
<polyline points="495.9,546.6 499.5,549.1 502.0,550.8"/>
<polyline points="508.1,547.8 509.3,549.8"/>
<polyline points="562.0,443.0 562.6,444.5"/>
<polyline points="227.0,496.2 231.1,500.7 236.0,506.4 240.1,511.3 241.5,514.5"/>
<polyline points="369.6,370.0 369.5,372.7 368.7,379.6 368.1,387.5 369.0,394.3 371.0,399.2 373.9,403.6 377.4,402.2 379.3,400.0"/>
<polyline points="113.6,195.8 115.4,199.8 113.2,204.2 115.9,207.5 114.3,211.9 117.2,214.1 115.4,218.5"/>
<polyline points="118.7,202.0 120.9,205.3 119.4,208.6 122.0,211.9 120.3,215.2 123.1,217.4"/>
<polyline points="116.5,221.8 119.4,224.5 117.6,228.4 120.9,230.6 119.4,235.1 122.5,237.3 120.9,241.2"/>
<polyline points="123.1,222.9 125.3,226.2 123.8,230.2 126.4,232.9 124.7,237.3 126.9,240.6"/>
<polyline points="111.0,204.2 112.8,208.1 111.4,211.9"/>
<polyline points="124.2,204.2 126.0,208.6 124.7,213.0 126.4,217.4"/>
<polyline points="85.0,151.7 84.1,155.6 86.3,159.0 85.6,162.3"/>
<polyline points="345.5,508.0 347.0,506.5 348.5,508.0 350.0,506.5 351.5,508.5 353.0,507.0 354.5,509.0 356.0,507.5"/>
<polyline points="346.0,510.5 348.0,511.5 350.0,510.0 352.0,511.8 354.0,510.5"/>
<polyline points="349.0,505.0 350.5,503.5 352.0,505.0 353.5,503.8"/>
</g>
<path d="M36.3,138 V567.4 H575.7 V138" fill="none" stroke="#222" stroke-width="0.5"/>
<rect x="43.00" y="627.3" width="37.87" height="38.40" fill="#2f1d00"/>
<rect x="80.57" y="627.3" width="37.87" height="38.40" fill="#6b4513"/>
<rect x="118.14" y="627.3" width="37.87" height="38.40" fill="#b06a32"/>
<rect x="155.71" y="627.3" width="37.87" height="38.40" fill="#c89050"/>
<rect x="193.29" y="627.3" width="37.87" height="38.40" fill="#dcb478"/>
<rect x="230.86" y="627.3" width="37.87" height="38.40" fill="#f5d2b4"/>
<rect x="268.43" y="627.3" width="37.87" height="38.40" fill="#f5f5dc"/>
<rect x="306.00" y="627.3" width="37.87" height="38.40" fill="#c8ffff"/>
<rect x="343.57" y="627.3" width="37.87" height="38.40" fill="#78ffff"/>
<rect x="381.14" y="627.3" width="37.87" height="38.40" fill="#00f0ff"/>
<rect x="418.71" y="627.3" width="37.87" height="38.40" fill="#00b4ff"/>
<rect x="456.29" y="627.3" width="37.87" height="38.40" fill="#0064ff"/>
<rect x="493.86" y="627.3" width="37.87" height="38.40" fill="#0000ff"/>
<rect x="531.43" y="627.3" width="37.87" height="38.40" fill="#000096"/>
<g style="filter:grayscale(1)">
<text x="80.57" y="688.7" font-size="14.8" text-anchor="middle">-50</text>
<text x="118.14" y="688.7" font-size="14.8" text-anchor="middle">-40</text>
<text x="155.71" y="688.7" font-size="14.8" text-anchor="middle">-30</text>
<text x="193.29" y="688.7" font-size="14.8" text-anchor="middle">-20</text>
<text x="230.86" y="688.7" font-size="14.8" text-anchor="middle">-10</text>
<text x="268.43" y="688.7" font-size="14.8" text-anchor="middle">-5</text>
<text x="306.00" y="688.7" font-size="14.8" text-anchor="middle">0</text>
<text x="343.57" y="688.7" font-size="14.8" text-anchor="middle">5</text>
<text x="381.14" y="688.7" font-size="14.8" text-anchor="middle">10</text>
<text x="418.71" y="688.7" font-size="14.8" text-anchor="middle">20</text>
<text x="456.29" y="688.7" font-size="14.8" text-anchor="middle">30</text>
<text x="493.86" y="688.7" font-size="14.8" text-anchor="middle">40</text>
<text x="531.43" y="688.7" font-size="14.8" text-anchor="middle">50</text>
<text x="305.7" y="90.5" font-size="26.9" font-weight="bold" text-anchor="middle">HADCM3 DJF Precipitation</text>
<text x="35.6" y="128.0" font-size="19.74">%-change in seasonal average</text>
<text x="576.4" y="131.9" font-size="19.74" text-anchor="end">%</text>
</g>
</svg>
</body></html>
